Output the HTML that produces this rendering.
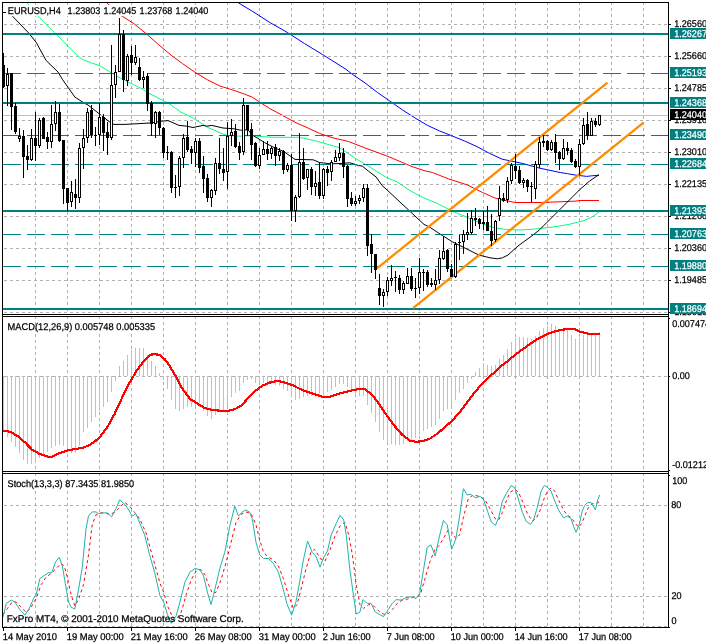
<!DOCTYPE html>
<html><head><meta charset="utf-8"><title>EURUSD,H4</title>
<style>html,body{margin:0;padding:0;background:#fff;overflow:hidden}svg{display:block;font-family:"Liberation Sans",sans-serif;text-rendering:geometricPrecision}.c{shape-rendering:crispEdges}</style></head><body>
<svg width="706" height="644" viewBox="0 0 706 644">
<rect width="706" height="644" fill="#fff"/>
<g class="c">
<path d="M35.5 3V5M35.5 8V11M35.5 14V17M35.5 20V23M35.5 26V29M35.5 32V35M35.5 38V41M35.5 44V47M35.5 50V53M35.5 56V59M35.5 62V65M35.5 68V71M35.5 74V77M35.5 80V83M35.5 86V89M35.5 92V95M35.5 98V101M35.5 104V107M35.5 110V113M35.5 116V119M35.5 122V125M35.5 128V131M35.5 134V137M35.5 140V143M35.5 146V149M35.5 152V155M35.5 158V161M35.5 164V167M35.5 170V173M35.5 176V179M35.5 182V185M35.5 188V191M35.5 194V197M35.5 200V203M35.5 206V209M35.5 212V215M35.5 218V221M35.5 224V227M35.5 230V233M35.5 236V239M35.5 242V245M35.5 248V251M35.5 254V257M35.5 260V263M35.5 266V269M35.5 272V275M35.5 278V281M35.5 284V287M35.5 290V293M35.5 296V299M35.5 302V305M35.5 308V311" stroke="#b0b0b0" stroke-width="1" fill="none"/>
<path d="M67.5 3V5M67.5 8V11M67.5 14V17M67.5 20V23M67.5 26V29M67.5 32V35M67.5 38V41M67.5 44V47M67.5 50V53M67.5 56V59M67.5 62V65M67.5 68V71M67.5 74V77M67.5 80V83M67.5 86V89M67.5 92V95M67.5 98V101M67.5 104V107M67.5 110V113M67.5 116V119M67.5 122V125M67.5 128V131M67.5 134V137M67.5 140V143M67.5 146V149M67.5 152V155M67.5 158V161M67.5 164V167M67.5 170V173M67.5 176V179M67.5 182V185M67.5 188V191M67.5 194V197M67.5 200V203M67.5 206V209M67.5 212V215M67.5 218V221M67.5 224V227M67.5 230V233M67.5 236V239M67.5 242V245M67.5 248V251M67.5 254V257M67.5 260V263M67.5 266V269M67.5 272V275M67.5 278V281M67.5 284V287M67.5 290V293M67.5 296V299M67.5 302V305M67.5 308V311" stroke="#b0b0b0" stroke-width="1" fill="none"/>
<path d="M99.5 3V5M99.5 8V11M99.5 14V17M99.5 20V23M99.5 26V29M99.5 32V35M99.5 38V41M99.5 44V47M99.5 50V53M99.5 56V59M99.5 62V65M99.5 68V71M99.5 74V77M99.5 80V83M99.5 86V89M99.5 92V95M99.5 98V101M99.5 104V107M99.5 110V113M99.5 116V119M99.5 122V125M99.5 128V131M99.5 134V137M99.5 140V143M99.5 146V149M99.5 152V155M99.5 158V161M99.5 164V167M99.5 170V173M99.5 176V179M99.5 182V185M99.5 188V191M99.5 194V197M99.5 200V203M99.5 206V209M99.5 212V215M99.5 218V221M99.5 224V227M99.5 230V233M99.5 236V239M99.5 242V245M99.5 248V251M99.5 254V257M99.5 260V263M99.5 266V269M99.5 272V275M99.5 278V281M99.5 284V287M99.5 290V293M99.5 296V299M99.5 302V305M99.5 308V311" stroke="#b0b0b0" stroke-width="1" fill="none"/>
<path d="M131.5 3V5M131.5 8V11M131.5 14V17M131.5 20V23M131.5 26V29M131.5 32V35M131.5 38V41M131.5 44V47M131.5 50V53M131.5 56V59M131.5 62V65M131.5 68V71M131.5 74V77M131.5 80V83M131.5 86V89M131.5 92V95M131.5 98V101M131.5 104V107M131.5 110V113M131.5 116V119M131.5 122V125M131.5 128V131M131.5 134V137M131.5 140V143M131.5 146V149M131.5 152V155M131.5 158V161M131.5 164V167M131.5 170V173M131.5 176V179M131.5 182V185M131.5 188V191M131.5 194V197M131.5 200V203M131.5 206V209M131.5 212V215M131.5 218V221M131.5 224V227M131.5 230V233M131.5 236V239M131.5 242V245M131.5 248V251M131.5 254V257M131.5 260V263M131.5 266V269M131.5 272V275M131.5 278V281M131.5 284V287M131.5 290V293M131.5 296V299M131.5 302V305M131.5 308V311" stroke="#b0b0b0" stroke-width="1" fill="none"/>
<path d="M163.5 3V5M163.5 8V11M163.5 14V17M163.5 20V23M163.5 26V29M163.5 32V35M163.5 38V41M163.5 44V47M163.5 50V53M163.5 56V59M163.5 62V65M163.5 68V71M163.5 74V77M163.5 80V83M163.5 86V89M163.5 92V95M163.5 98V101M163.5 104V107M163.5 110V113M163.5 116V119M163.5 122V125M163.5 128V131M163.5 134V137M163.5 140V143M163.5 146V149M163.5 152V155M163.5 158V161M163.5 164V167M163.5 170V173M163.5 176V179M163.5 182V185M163.5 188V191M163.5 194V197M163.5 200V203M163.5 206V209M163.5 212V215M163.5 218V221M163.5 224V227M163.5 230V233M163.5 236V239M163.5 242V245M163.5 248V251M163.5 254V257M163.5 260V263M163.5 266V269M163.5 272V275M163.5 278V281M163.5 284V287M163.5 290V293M163.5 296V299M163.5 302V305M163.5 308V311" stroke="#b0b0b0" stroke-width="1" fill="none"/>
<path d="M195.5 3V5M195.5 8V11M195.5 14V17M195.5 20V23M195.5 26V29M195.5 32V35M195.5 38V41M195.5 44V47M195.5 50V53M195.5 56V59M195.5 62V65M195.5 68V71M195.5 74V77M195.5 80V83M195.5 86V89M195.5 92V95M195.5 98V101M195.5 104V107M195.5 110V113M195.5 116V119M195.5 122V125M195.5 128V131M195.5 134V137M195.5 140V143M195.5 146V149M195.5 152V155M195.5 158V161M195.5 164V167M195.5 170V173M195.5 176V179M195.5 182V185M195.5 188V191M195.5 194V197M195.5 200V203M195.5 206V209M195.5 212V215M195.5 218V221M195.5 224V227M195.5 230V233M195.5 236V239M195.5 242V245M195.5 248V251M195.5 254V257M195.5 260V263M195.5 266V269M195.5 272V275M195.5 278V281M195.5 284V287M195.5 290V293M195.5 296V299M195.5 302V305M195.5 308V311" stroke="#b0b0b0" stroke-width="1" fill="none"/>
<path d="M227.5 3V5M227.5 8V11M227.5 14V17M227.5 20V23M227.5 26V29M227.5 32V35M227.5 38V41M227.5 44V47M227.5 50V53M227.5 56V59M227.5 62V65M227.5 68V71M227.5 74V77M227.5 80V83M227.5 86V89M227.5 92V95M227.5 98V101M227.5 104V107M227.5 110V113M227.5 116V119M227.5 122V125M227.5 128V131M227.5 134V137M227.5 140V143M227.5 146V149M227.5 152V155M227.5 158V161M227.5 164V167M227.5 170V173M227.5 176V179M227.5 182V185M227.5 188V191M227.5 194V197M227.5 200V203M227.5 206V209M227.5 212V215M227.5 218V221M227.5 224V227M227.5 230V233M227.5 236V239M227.5 242V245M227.5 248V251M227.5 254V257M227.5 260V263M227.5 266V269M227.5 272V275M227.5 278V281M227.5 284V287M227.5 290V293M227.5 296V299M227.5 302V305M227.5 308V311" stroke="#b0b0b0" stroke-width="1" fill="none"/>
<path d="M259.5 3V5M259.5 8V11M259.5 14V17M259.5 20V23M259.5 26V29M259.5 32V35M259.5 38V41M259.5 44V47M259.5 50V53M259.5 56V59M259.5 62V65M259.5 68V71M259.5 74V77M259.5 80V83M259.5 86V89M259.5 92V95M259.5 98V101M259.5 104V107M259.5 110V113M259.5 116V119M259.5 122V125M259.5 128V131M259.5 134V137M259.5 140V143M259.5 146V149M259.5 152V155M259.5 158V161M259.5 164V167M259.5 170V173M259.5 176V179M259.5 182V185M259.5 188V191M259.5 194V197M259.5 200V203M259.5 206V209M259.5 212V215M259.5 218V221M259.5 224V227M259.5 230V233M259.5 236V239M259.5 242V245M259.5 248V251M259.5 254V257M259.5 260V263M259.5 266V269M259.5 272V275M259.5 278V281M259.5 284V287M259.5 290V293M259.5 296V299M259.5 302V305M259.5 308V311" stroke="#b0b0b0" stroke-width="1" fill="none"/>
<path d="M291.5 3V5M291.5 8V11M291.5 14V17M291.5 20V23M291.5 26V29M291.5 32V35M291.5 38V41M291.5 44V47M291.5 50V53M291.5 56V59M291.5 62V65M291.5 68V71M291.5 74V77M291.5 80V83M291.5 86V89M291.5 92V95M291.5 98V101M291.5 104V107M291.5 110V113M291.5 116V119M291.5 122V125M291.5 128V131M291.5 134V137M291.5 140V143M291.5 146V149M291.5 152V155M291.5 158V161M291.5 164V167M291.5 170V173M291.5 176V179M291.5 182V185M291.5 188V191M291.5 194V197M291.5 200V203M291.5 206V209M291.5 212V215M291.5 218V221M291.5 224V227M291.5 230V233M291.5 236V239M291.5 242V245M291.5 248V251M291.5 254V257M291.5 260V263M291.5 266V269M291.5 272V275M291.5 278V281M291.5 284V287M291.5 290V293M291.5 296V299M291.5 302V305M291.5 308V311" stroke="#b0b0b0" stroke-width="1" fill="none"/>
<path d="M323.5 3V5M323.5 8V11M323.5 14V17M323.5 20V23M323.5 26V29M323.5 32V35M323.5 38V41M323.5 44V47M323.5 50V53M323.5 56V59M323.5 62V65M323.5 68V71M323.5 74V77M323.5 80V83M323.5 86V89M323.5 92V95M323.5 98V101M323.5 104V107M323.5 110V113M323.5 116V119M323.5 122V125M323.5 128V131M323.5 134V137M323.5 140V143M323.5 146V149M323.5 152V155M323.5 158V161M323.5 164V167M323.5 170V173M323.5 176V179M323.5 182V185M323.5 188V191M323.5 194V197M323.5 200V203M323.5 206V209M323.5 212V215M323.5 218V221M323.5 224V227M323.5 230V233M323.5 236V239M323.5 242V245M323.5 248V251M323.5 254V257M323.5 260V263M323.5 266V269M323.5 272V275M323.5 278V281M323.5 284V287M323.5 290V293M323.5 296V299M323.5 302V305M323.5 308V311" stroke="#b0b0b0" stroke-width="1" fill="none"/>
<path d="M355.5 3V5M355.5 8V11M355.5 14V17M355.5 20V23M355.5 26V29M355.5 32V35M355.5 38V41M355.5 44V47M355.5 50V53M355.5 56V59M355.5 62V65M355.5 68V71M355.5 74V77M355.5 80V83M355.5 86V89M355.5 92V95M355.5 98V101M355.5 104V107M355.5 110V113M355.5 116V119M355.5 122V125M355.5 128V131M355.5 134V137M355.5 140V143M355.5 146V149M355.5 152V155M355.5 158V161M355.5 164V167M355.5 170V173M355.5 176V179M355.5 182V185M355.5 188V191M355.5 194V197M355.5 200V203M355.5 206V209M355.5 212V215M355.5 218V221M355.5 224V227M355.5 230V233M355.5 236V239M355.5 242V245M355.5 248V251M355.5 254V257M355.5 260V263M355.5 266V269M355.5 272V275M355.5 278V281M355.5 284V287M355.5 290V293M355.5 296V299M355.5 302V305M355.5 308V311" stroke="#b0b0b0" stroke-width="1" fill="none"/>
<path d="M387.5 3V5M387.5 8V11M387.5 14V17M387.5 20V23M387.5 26V29M387.5 32V35M387.5 38V41M387.5 44V47M387.5 50V53M387.5 56V59M387.5 62V65M387.5 68V71M387.5 74V77M387.5 80V83M387.5 86V89M387.5 92V95M387.5 98V101M387.5 104V107M387.5 110V113M387.5 116V119M387.5 122V125M387.5 128V131M387.5 134V137M387.5 140V143M387.5 146V149M387.5 152V155M387.5 158V161M387.5 164V167M387.5 170V173M387.5 176V179M387.5 182V185M387.5 188V191M387.5 194V197M387.5 200V203M387.5 206V209M387.5 212V215M387.5 218V221M387.5 224V227M387.5 230V233M387.5 236V239M387.5 242V245M387.5 248V251M387.5 254V257M387.5 260V263M387.5 266V269M387.5 272V275M387.5 278V281M387.5 284V287M387.5 290V293M387.5 296V299M387.5 302V305M387.5 308V311" stroke="#b0b0b0" stroke-width="1" fill="none"/>
<path d="M419.5 3V5M419.5 8V11M419.5 14V17M419.5 20V23M419.5 26V29M419.5 32V35M419.5 38V41M419.5 44V47M419.5 50V53M419.5 56V59M419.5 62V65M419.5 68V71M419.5 74V77M419.5 80V83M419.5 86V89M419.5 92V95M419.5 98V101M419.5 104V107M419.5 110V113M419.5 116V119M419.5 122V125M419.5 128V131M419.5 134V137M419.5 140V143M419.5 146V149M419.5 152V155M419.5 158V161M419.5 164V167M419.5 170V173M419.5 176V179M419.5 182V185M419.5 188V191M419.5 194V197M419.5 200V203M419.5 206V209M419.5 212V215M419.5 218V221M419.5 224V227M419.5 230V233M419.5 236V239M419.5 242V245M419.5 248V251M419.5 254V257M419.5 260V263M419.5 266V269M419.5 272V275M419.5 278V281M419.5 284V287M419.5 290V293M419.5 296V299M419.5 302V305M419.5 308V311" stroke="#b0b0b0" stroke-width="1" fill="none"/>
<path d="M451.5 3V5M451.5 8V11M451.5 14V17M451.5 20V23M451.5 26V29M451.5 32V35M451.5 38V41M451.5 44V47M451.5 50V53M451.5 56V59M451.5 62V65M451.5 68V71M451.5 74V77M451.5 80V83M451.5 86V89M451.5 92V95M451.5 98V101M451.5 104V107M451.5 110V113M451.5 116V119M451.5 122V125M451.5 128V131M451.5 134V137M451.5 140V143M451.5 146V149M451.5 152V155M451.5 158V161M451.5 164V167M451.5 170V173M451.5 176V179M451.5 182V185M451.5 188V191M451.5 194V197M451.5 200V203M451.5 206V209M451.5 212V215M451.5 218V221M451.5 224V227M451.5 230V233M451.5 236V239M451.5 242V245M451.5 248V251M451.5 254V257M451.5 260V263M451.5 266V269M451.5 272V275M451.5 278V281M451.5 284V287M451.5 290V293M451.5 296V299M451.5 302V305M451.5 308V311" stroke="#b0b0b0" stroke-width="1" fill="none"/>
<path d="M483.5 3V5M483.5 8V11M483.5 14V17M483.5 20V23M483.5 26V29M483.5 32V35M483.5 38V41M483.5 44V47M483.5 50V53M483.5 56V59M483.5 62V65M483.5 68V71M483.5 74V77M483.5 80V83M483.5 86V89M483.5 92V95M483.5 98V101M483.5 104V107M483.5 110V113M483.5 116V119M483.5 122V125M483.5 128V131M483.5 134V137M483.5 140V143M483.5 146V149M483.5 152V155M483.5 158V161M483.5 164V167M483.5 170V173M483.5 176V179M483.5 182V185M483.5 188V191M483.5 194V197M483.5 200V203M483.5 206V209M483.5 212V215M483.5 218V221M483.5 224V227M483.5 230V233M483.5 236V239M483.5 242V245M483.5 248V251M483.5 254V257M483.5 260V263M483.5 266V269M483.5 272V275M483.5 278V281M483.5 284V287M483.5 290V293M483.5 296V299M483.5 302V305M483.5 308V311" stroke="#b0b0b0" stroke-width="1" fill="none"/>
<path d="M515.5 3V5M515.5 8V11M515.5 14V17M515.5 20V23M515.5 26V29M515.5 32V35M515.5 38V41M515.5 44V47M515.5 50V53M515.5 56V59M515.5 62V65M515.5 68V71M515.5 74V77M515.5 80V83M515.5 86V89M515.5 92V95M515.5 98V101M515.5 104V107M515.5 110V113M515.5 116V119M515.5 122V125M515.5 128V131M515.5 134V137M515.5 140V143M515.5 146V149M515.5 152V155M515.5 158V161M515.5 164V167M515.5 170V173M515.5 176V179M515.5 182V185M515.5 188V191M515.5 194V197M515.5 200V203M515.5 206V209M515.5 212V215M515.5 218V221M515.5 224V227M515.5 230V233M515.5 236V239M515.5 242V245M515.5 248V251M515.5 254V257M515.5 260V263M515.5 266V269M515.5 272V275M515.5 278V281M515.5 284V287M515.5 290V293M515.5 296V299M515.5 302V305M515.5 308V311" stroke="#b0b0b0" stroke-width="1" fill="none"/>
<path d="M547.5 3V5M547.5 8V11M547.5 14V17M547.5 20V23M547.5 26V29M547.5 32V35M547.5 38V41M547.5 44V47M547.5 50V53M547.5 56V59M547.5 62V65M547.5 68V71M547.5 74V77M547.5 80V83M547.5 86V89M547.5 92V95M547.5 98V101M547.5 104V107M547.5 110V113M547.5 116V119M547.5 122V125M547.5 128V131M547.5 134V137M547.5 140V143M547.5 146V149M547.5 152V155M547.5 158V161M547.5 164V167M547.5 170V173M547.5 176V179M547.5 182V185M547.5 188V191M547.5 194V197M547.5 200V203M547.5 206V209M547.5 212V215M547.5 218V221M547.5 224V227M547.5 230V233M547.5 236V239M547.5 242V245M547.5 248V251M547.5 254V257M547.5 260V263M547.5 266V269M547.5 272V275M547.5 278V281M547.5 284V287M547.5 290V293M547.5 296V299M547.5 302V305M547.5 308V311" stroke="#b0b0b0" stroke-width="1" fill="none"/>
<path d="M579.5 3V5M579.5 8V11M579.5 14V17M579.5 20V23M579.5 26V29M579.5 32V35M579.5 38V41M579.5 44V47M579.5 50V53M579.5 56V59M579.5 62V65M579.5 68V71M579.5 74V77M579.5 80V83M579.5 86V89M579.5 92V95M579.5 98V101M579.5 104V107M579.5 110V113M579.5 116V119M579.5 122V125M579.5 128V131M579.5 134V137M579.5 140V143M579.5 146V149M579.5 152V155M579.5 158V161M579.5 164V167M579.5 170V173M579.5 176V179M579.5 182V185M579.5 188V191M579.5 194V197M579.5 200V203M579.5 206V209M579.5 212V215M579.5 218V221M579.5 224V227M579.5 230V233M579.5 236V239M579.5 242V245M579.5 248V251M579.5 254V257M579.5 260V263M579.5 266V269M579.5 272V275M579.5 278V281M579.5 284V287M579.5 290V293M579.5 296V299M579.5 302V305M579.5 308V311" stroke="#b0b0b0" stroke-width="1" fill="none"/>
<path d="M611.5 3V5M611.5 8V11M611.5 14V17M611.5 20V23M611.5 26V29M611.5 32V35M611.5 38V41M611.5 44V47M611.5 50V53M611.5 56V59M611.5 62V65M611.5 68V71M611.5 74V77M611.5 80V83M611.5 86V89M611.5 92V95M611.5 98V101M611.5 104V107M611.5 110V113M611.5 116V119M611.5 122V125M611.5 128V131M611.5 134V137M611.5 140V143M611.5 146V149M611.5 152V155M611.5 158V161M611.5 164V167M611.5 170V173M611.5 176V179M611.5 182V185M611.5 188V191M611.5 194V197M611.5 200V203M611.5 206V209M611.5 212V215M611.5 218V221M611.5 224V227M611.5 230V233M611.5 236V239M611.5 242V245M611.5 248V251M611.5 254V257M611.5 260V263M611.5 266V269M611.5 272V275M611.5 278V281M611.5 284V287M611.5 290V293M611.5 296V299M611.5 302V305M611.5 308V311" stroke="#b0b0b0" stroke-width="1" fill="none"/>
<path d="M643.5 3V5M643.5 8V11M643.5 14V17M643.5 20V23M643.5 26V29M643.5 32V35M643.5 38V41M643.5 44V47M643.5 50V53M643.5 56V59M643.5 62V65M643.5 68V71M643.5 74V77M643.5 80V83M643.5 86V89M643.5 92V95M643.5 98V101M643.5 104V107M643.5 110V113M643.5 116V119M643.5 122V125M643.5 128V131M643.5 134V137M643.5 140V143M643.5 146V149M643.5 152V155M643.5 158V161M643.5 164V167M643.5 170V173M643.5 176V179M643.5 182V185M643.5 188V191M643.5 194V197M643.5 200V203M643.5 206V209M643.5 212V215M643.5 218V221M643.5 224V227M643.5 230V233M643.5 236V239M643.5 242V245M643.5 248V251M643.5 254V257M643.5 260V263M643.5 266V269M643.5 272V275M643.5 278V281M643.5 284V287M643.5 290V293M643.5 296V299M643.5 302V305M643.5 308V311" stroke="#b0b0b0" stroke-width="1" fill="none"/>
<path d="M35.5 317V319M35.5 322V325M35.5 328V331M35.5 334V337M35.5 340V343M35.5 346V349M35.5 352V355M35.5 358V361M35.5 364V367M35.5 370V373M35.5 376V379M35.5 382V385M35.5 388V391M35.5 394V397M35.5 400V403M35.5 406V409M35.5 412V415M35.5 418V421M35.5 424V427M35.5 430V433M35.5 436V439M35.5 442V445M35.5 448V451M35.5 454V457M35.5 460V463M35.5 466V469" stroke="#b0b0b0" stroke-width="1" fill="none"/>
<path d="M67.5 317V319M67.5 322V325M67.5 328V331M67.5 334V337M67.5 340V343M67.5 346V349M67.5 352V355M67.5 358V361M67.5 364V367M67.5 370V373M67.5 376V379M67.5 382V385M67.5 388V391M67.5 394V397M67.5 400V403M67.5 406V409M67.5 412V415M67.5 418V421M67.5 424V427M67.5 430V433M67.5 436V439M67.5 442V445M67.5 448V451M67.5 454V457M67.5 460V463M67.5 466V469" stroke="#b0b0b0" stroke-width="1" fill="none"/>
<path d="M99.5 317V319M99.5 322V325M99.5 328V331M99.5 334V337M99.5 340V343M99.5 346V349M99.5 352V355M99.5 358V361M99.5 364V367M99.5 370V373M99.5 376V379M99.5 382V385M99.5 388V391M99.5 394V397M99.5 400V403M99.5 406V409M99.5 412V415M99.5 418V421M99.5 424V427M99.5 430V433M99.5 436V439M99.5 442V445M99.5 448V451M99.5 454V457M99.5 460V463M99.5 466V469" stroke="#b0b0b0" stroke-width="1" fill="none"/>
<path d="M131.5 317V319M131.5 322V325M131.5 328V331M131.5 334V337M131.5 340V343M131.5 346V349M131.5 352V355M131.5 358V361M131.5 364V367M131.5 370V373M131.5 376V379M131.5 382V385M131.5 388V391M131.5 394V397M131.5 400V403M131.5 406V409M131.5 412V415M131.5 418V421M131.5 424V427M131.5 430V433M131.5 436V439M131.5 442V445M131.5 448V451M131.5 454V457M131.5 460V463M131.5 466V469" stroke="#b0b0b0" stroke-width="1" fill="none"/>
<path d="M163.5 317V319M163.5 322V325M163.5 328V331M163.5 334V337M163.5 340V343M163.5 346V349M163.5 352V355M163.5 358V361M163.5 364V367M163.5 370V373M163.5 376V379M163.5 382V385M163.5 388V391M163.5 394V397M163.5 400V403M163.5 406V409M163.5 412V415M163.5 418V421M163.5 424V427M163.5 430V433M163.5 436V439M163.5 442V445M163.5 448V451M163.5 454V457M163.5 460V463M163.5 466V469" stroke="#b0b0b0" stroke-width="1" fill="none"/>
<path d="M195.5 317V319M195.5 322V325M195.5 328V331M195.5 334V337M195.5 340V343M195.5 346V349M195.5 352V355M195.5 358V361M195.5 364V367M195.5 370V373M195.5 376V379M195.5 382V385M195.5 388V391M195.5 394V397M195.5 400V403M195.5 406V409M195.5 412V415M195.5 418V421M195.5 424V427M195.5 430V433M195.5 436V439M195.5 442V445M195.5 448V451M195.5 454V457M195.5 460V463M195.5 466V469" stroke="#b0b0b0" stroke-width="1" fill="none"/>
<path d="M227.5 317V319M227.5 322V325M227.5 328V331M227.5 334V337M227.5 340V343M227.5 346V349M227.5 352V355M227.5 358V361M227.5 364V367M227.5 370V373M227.5 376V379M227.5 382V385M227.5 388V391M227.5 394V397M227.5 400V403M227.5 406V409M227.5 412V415M227.5 418V421M227.5 424V427M227.5 430V433M227.5 436V439M227.5 442V445M227.5 448V451M227.5 454V457M227.5 460V463M227.5 466V469" stroke="#b0b0b0" stroke-width="1" fill="none"/>
<path d="M259.5 317V319M259.5 322V325M259.5 328V331M259.5 334V337M259.5 340V343M259.5 346V349M259.5 352V355M259.5 358V361M259.5 364V367M259.5 370V373M259.5 376V379M259.5 382V385M259.5 388V391M259.5 394V397M259.5 400V403M259.5 406V409M259.5 412V415M259.5 418V421M259.5 424V427M259.5 430V433M259.5 436V439M259.5 442V445M259.5 448V451M259.5 454V457M259.5 460V463M259.5 466V469" stroke="#b0b0b0" stroke-width="1" fill="none"/>
<path d="M291.5 317V319M291.5 322V325M291.5 328V331M291.5 334V337M291.5 340V343M291.5 346V349M291.5 352V355M291.5 358V361M291.5 364V367M291.5 370V373M291.5 376V379M291.5 382V385M291.5 388V391M291.5 394V397M291.5 400V403M291.5 406V409M291.5 412V415M291.5 418V421M291.5 424V427M291.5 430V433M291.5 436V439M291.5 442V445M291.5 448V451M291.5 454V457M291.5 460V463M291.5 466V469" stroke="#b0b0b0" stroke-width="1" fill="none"/>
<path d="M323.5 317V319M323.5 322V325M323.5 328V331M323.5 334V337M323.5 340V343M323.5 346V349M323.5 352V355M323.5 358V361M323.5 364V367M323.5 370V373M323.5 376V379M323.5 382V385M323.5 388V391M323.5 394V397M323.5 400V403M323.5 406V409M323.5 412V415M323.5 418V421M323.5 424V427M323.5 430V433M323.5 436V439M323.5 442V445M323.5 448V451M323.5 454V457M323.5 460V463M323.5 466V469" stroke="#b0b0b0" stroke-width="1" fill="none"/>
<path d="M355.5 317V319M355.5 322V325M355.5 328V331M355.5 334V337M355.5 340V343M355.5 346V349M355.5 352V355M355.5 358V361M355.5 364V367M355.5 370V373M355.5 376V379M355.5 382V385M355.5 388V391M355.5 394V397M355.5 400V403M355.5 406V409M355.5 412V415M355.5 418V421M355.5 424V427M355.5 430V433M355.5 436V439M355.5 442V445M355.5 448V451M355.5 454V457M355.5 460V463M355.5 466V469" stroke="#b0b0b0" stroke-width="1" fill="none"/>
<path d="M387.5 317V319M387.5 322V325M387.5 328V331M387.5 334V337M387.5 340V343M387.5 346V349M387.5 352V355M387.5 358V361M387.5 364V367M387.5 370V373M387.5 376V379M387.5 382V385M387.5 388V391M387.5 394V397M387.5 400V403M387.5 406V409M387.5 412V415M387.5 418V421M387.5 424V427M387.5 430V433M387.5 436V439M387.5 442V445M387.5 448V451M387.5 454V457M387.5 460V463M387.5 466V469" stroke="#b0b0b0" stroke-width="1" fill="none"/>
<path d="M419.5 317V319M419.5 322V325M419.5 328V331M419.5 334V337M419.5 340V343M419.5 346V349M419.5 352V355M419.5 358V361M419.5 364V367M419.5 370V373M419.5 376V379M419.5 382V385M419.5 388V391M419.5 394V397M419.5 400V403M419.5 406V409M419.5 412V415M419.5 418V421M419.5 424V427M419.5 430V433M419.5 436V439M419.5 442V445M419.5 448V451M419.5 454V457M419.5 460V463M419.5 466V469" stroke="#b0b0b0" stroke-width="1" fill="none"/>
<path d="M451.5 317V319M451.5 322V325M451.5 328V331M451.5 334V337M451.5 340V343M451.5 346V349M451.5 352V355M451.5 358V361M451.5 364V367M451.5 370V373M451.5 376V379M451.5 382V385M451.5 388V391M451.5 394V397M451.5 400V403M451.5 406V409M451.5 412V415M451.5 418V421M451.5 424V427M451.5 430V433M451.5 436V439M451.5 442V445M451.5 448V451M451.5 454V457M451.5 460V463M451.5 466V469" stroke="#b0b0b0" stroke-width="1" fill="none"/>
<path d="M483.5 317V319M483.5 322V325M483.5 328V331M483.5 334V337M483.5 340V343M483.5 346V349M483.5 352V355M483.5 358V361M483.5 364V367M483.5 370V373M483.5 376V379M483.5 382V385M483.5 388V391M483.5 394V397M483.5 400V403M483.5 406V409M483.5 412V415M483.5 418V421M483.5 424V427M483.5 430V433M483.5 436V439M483.5 442V445M483.5 448V451M483.5 454V457M483.5 460V463M483.5 466V469" stroke="#b0b0b0" stroke-width="1" fill="none"/>
<path d="M515.5 317V319M515.5 322V325M515.5 328V331M515.5 334V337M515.5 340V343M515.5 346V349M515.5 352V355M515.5 358V361M515.5 364V367M515.5 370V373M515.5 376V379M515.5 382V385M515.5 388V391M515.5 394V397M515.5 400V403M515.5 406V409M515.5 412V415M515.5 418V421M515.5 424V427M515.5 430V433M515.5 436V439M515.5 442V445M515.5 448V451M515.5 454V457M515.5 460V463M515.5 466V469" stroke="#b0b0b0" stroke-width="1" fill="none"/>
<path d="M547.5 317V319M547.5 322V325M547.5 328V331M547.5 334V337M547.5 340V343M547.5 346V349M547.5 352V355M547.5 358V361M547.5 364V367M547.5 370V373M547.5 376V379M547.5 382V385M547.5 388V391M547.5 394V397M547.5 400V403M547.5 406V409M547.5 412V415M547.5 418V421M547.5 424V427M547.5 430V433M547.5 436V439M547.5 442V445M547.5 448V451M547.5 454V457M547.5 460V463M547.5 466V469" stroke="#b0b0b0" stroke-width="1" fill="none"/>
<path d="M579.5 317V319M579.5 322V325M579.5 328V331M579.5 334V337M579.5 340V343M579.5 346V349M579.5 352V355M579.5 358V361M579.5 364V367M579.5 370V373M579.5 376V379M579.5 382V385M579.5 388V391M579.5 394V397M579.5 400V403M579.5 406V409M579.5 412V415M579.5 418V421M579.5 424V427M579.5 430V433M579.5 436V439M579.5 442V445M579.5 448V451M579.5 454V457M579.5 460V463M579.5 466V469" stroke="#b0b0b0" stroke-width="1" fill="none"/>
<path d="M611.5 317V319M611.5 322V325M611.5 328V331M611.5 334V337M611.5 340V343M611.5 346V349M611.5 352V355M611.5 358V361M611.5 364V367M611.5 370V373M611.5 376V379M611.5 382V385M611.5 388V391M611.5 394V397M611.5 400V403M611.5 406V409M611.5 412V415M611.5 418V421M611.5 424V427M611.5 430V433M611.5 436V439M611.5 442V445M611.5 448V451M611.5 454V457M611.5 460V463M611.5 466V469" stroke="#b0b0b0" stroke-width="1" fill="none"/>
<path d="M643.5 317V319M643.5 322V325M643.5 328V331M643.5 334V337M643.5 340V343M643.5 346V349M643.5 352V355M643.5 358V361M643.5 364V367M643.5 370V373M643.5 376V379M643.5 382V385M643.5 388V391M643.5 394V397M643.5 400V403M643.5 406V409M643.5 412V415M643.5 418V421M643.5 424V427M643.5 430V433M643.5 436V439M643.5 442V445M643.5 448V451M643.5 454V457M643.5 460V463M643.5 466V469" stroke="#b0b0b0" stroke-width="1" fill="none"/>
<path d="M35.5 474V476M35.5 479V482M35.5 485V488M35.5 491V494M35.5 497V500M35.5 503V506M35.5 509V512M35.5 515V518M35.5 521V524M35.5 527V530M35.5 533V536M35.5 539V542M35.5 545V548M35.5 551V554M35.5 557V560M35.5 563V566M35.5 569V572M35.5 575V578M35.5 581V584M35.5 587V590M35.5 593V596M35.5 599V602M35.5 605V608M35.5 611V614M35.5 617V620M35.5 623V626" stroke="#b0b0b0" stroke-width="1" fill="none"/>
<path d="M67.5 474V476M67.5 479V482M67.5 485V488M67.5 491V494M67.5 497V500M67.5 503V506M67.5 509V512M67.5 515V518M67.5 521V524M67.5 527V530M67.5 533V536M67.5 539V542M67.5 545V548M67.5 551V554M67.5 557V560M67.5 563V566M67.5 569V572M67.5 575V578M67.5 581V584M67.5 587V590M67.5 593V596M67.5 599V602M67.5 605V608M67.5 611V614M67.5 617V620M67.5 623V626" stroke="#b0b0b0" stroke-width="1" fill="none"/>
<path d="M99.5 474V476M99.5 479V482M99.5 485V488M99.5 491V494M99.5 497V500M99.5 503V506M99.5 509V512M99.5 515V518M99.5 521V524M99.5 527V530M99.5 533V536M99.5 539V542M99.5 545V548M99.5 551V554M99.5 557V560M99.5 563V566M99.5 569V572M99.5 575V578M99.5 581V584M99.5 587V590M99.5 593V596M99.5 599V602M99.5 605V608M99.5 611V614M99.5 617V620M99.5 623V626" stroke="#b0b0b0" stroke-width="1" fill="none"/>
<path d="M131.5 474V476M131.5 479V482M131.5 485V488M131.5 491V494M131.5 497V500M131.5 503V506M131.5 509V512M131.5 515V518M131.5 521V524M131.5 527V530M131.5 533V536M131.5 539V542M131.5 545V548M131.5 551V554M131.5 557V560M131.5 563V566M131.5 569V572M131.5 575V578M131.5 581V584M131.5 587V590M131.5 593V596M131.5 599V602M131.5 605V608M131.5 611V614M131.5 617V620M131.5 623V626" stroke="#b0b0b0" stroke-width="1" fill="none"/>
<path d="M163.5 474V476M163.5 479V482M163.5 485V488M163.5 491V494M163.5 497V500M163.5 503V506M163.5 509V512M163.5 515V518M163.5 521V524M163.5 527V530M163.5 533V536M163.5 539V542M163.5 545V548M163.5 551V554M163.5 557V560M163.5 563V566M163.5 569V572M163.5 575V578M163.5 581V584M163.5 587V590M163.5 593V596M163.5 599V602M163.5 605V608M163.5 611V614M163.5 617V620M163.5 623V626" stroke="#b0b0b0" stroke-width="1" fill="none"/>
<path d="M195.5 474V476M195.5 479V482M195.5 485V488M195.5 491V494M195.5 497V500M195.5 503V506M195.5 509V512M195.5 515V518M195.5 521V524M195.5 527V530M195.5 533V536M195.5 539V542M195.5 545V548M195.5 551V554M195.5 557V560M195.5 563V566M195.5 569V572M195.5 575V578M195.5 581V584M195.5 587V590M195.5 593V596M195.5 599V602M195.5 605V608M195.5 611V614M195.5 617V620M195.5 623V626" stroke="#b0b0b0" stroke-width="1" fill="none"/>
<path d="M227.5 474V476M227.5 479V482M227.5 485V488M227.5 491V494M227.5 497V500M227.5 503V506M227.5 509V512M227.5 515V518M227.5 521V524M227.5 527V530M227.5 533V536M227.5 539V542M227.5 545V548M227.5 551V554M227.5 557V560M227.5 563V566M227.5 569V572M227.5 575V578M227.5 581V584M227.5 587V590M227.5 593V596M227.5 599V602M227.5 605V608M227.5 611V614M227.5 617V620M227.5 623V626" stroke="#b0b0b0" stroke-width="1" fill="none"/>
<path d="M259.5 474V476M259.5 479V482M259.5 485V488M259.5 491V494M259.5 497V500M259.5 503V506M259.5 509V512M259.5 515V518M259.5 521V524M259.5 527V530M259.5 533V536M259.5 539V542M259.5 545V548M259.5 551V554M259.5 557V560M259.5 563V566M259.5 569V572M259.5 575V578M259.5 581V584M259.5 587V590M259.5 593V596M259.5 599V602M259.5 605V608M259.5 611V614M259.5 617V620M259.5 623V626" stroke="#b0b0b0" stroke-width="1" fill="none"/>
<path d="M291.5 474V476M291.5 479V482M291.5 485V488M291.5 491V494M291.5 497V500M291.5 503V506M291.5 509V512M291.5 515V518M291.5 521V524M291.5 527V530M291.5 533V536M291.5 539V542M291.5 545V548M291.5 551V554M291.5 557V560M291.5 563V566M291.5 569V572M291.5 575V578M291.5 581V584M291.5 587V590M291.5 593V596M291.5 599V602M291.5 605V608M291.5 611V614M291.5 617V620M291.5 623V626" stroke="#b0b0b0" stroke-width="1" fill="none"/>
<path d="M323.5 474V476M323.5 479V482M323.5 485V488M323.5 491V494M323.5 497V500M323.5 503V506M323.5 509V512M323.5 515V518M323.5 521V524M323.5 527V530M323.5 533V536M323.5 539V542M323.5 545V548M323.5 551V554M323.5 557V560M323.5 563V566M323.5 569V572M323.5 575V578M323.5 581V584M323.5 587V590M323.5 593V596M323.5 599V602M323.5 605V608M323.5 611V614M323.5 617V620M323.5 623V626" stroke="#b0b0b0" stroke-width="1" fill="none"/>
<path d="M355.5 474V476M355.5 479V482M355.5 485V488M355.5 491V494M355.5 497V500M355.5 503V506M355.5 509V512M355.5 515V518M355.5 521V524M355.5 527V530M355.5 533V536M355.5 539V542M355.5 545V548M355.5 551V554M355.5 557V560M355.5 563V566M355.5 569V572M355.5 575V578M355.5 581V584M355.5 587V590M355.5 593V596M355.5 599V602M355.5 605V608M355.5 611V614M355.5 617V620M355.5 623V626" stroke="#b0b0b0" stroke-width="1" fill="none"/>
<path d="M387.5 474V476M387.5 479V482M387.5 485V488M387.5 491V494M387.5 497V500M387.5 503V506M387.5 509V512M387.5 515V518M387.5 521V524M387.5 527V530M387.5 533V536M387.5 539V542M387.5 545V548M387.5 551V554M387.5 557V560M387.5 563V566M387.5 569V572M387.5 575V578M387.5 581V584M387.5 587V590M387.5 593V596M387.5 599V602M387.5 605V608M387.5 611V614M387.5 617V620M387.5 623V626" stroke="#b0b0b0" stroke-width="1" fill="none"/>
<path d="M419.5 474V476M419.5 479V482M419.5 485V488M419.5 491V494M419.5 497V500M419.5 503V506M419.5 509V512M419.5 515V518M419.5 521V524M419.5 527V530M419.5 533V536M419.5 539V542M419.5 545V548M419.5 551V554M419.5 557V560M419.5 563V566M419.5 569V572M419.5 575V578M419.5 581V584M419.5 587V590M419.5 593V596M419.5 599V602M419.5 605V608M419.5 611V614M419.5 617V620M419.5 623V626" stroke="#b0b0b0" stroke-width="1" fill="none"/>
<path d="M451.5 474V476M451.5 479V482M451.5 485V488M451.5 491V494M451.5 497V500M451.5 503V506M451.5 509V512M451.5 515V518M451.5 521V524M451.5 527V530M451.5 533V536M451.5 539V542M451.5 545V548M451.5 551V554M451.5 557V560M451.5 563V566M451.5 569V572M451.5 575V578M451.5 581V584M451.5 587V590M451.5 593V596M451.5 599V602M451.5 605V608M451.5 611V614M451.5 617V620M451.5 623V626" stroke="#b0b0b0" stroke-width="1" fill="none"/>
<path d="M483.5 474V476M483.5 479V482M483.5 485V488M483.5 491V494M483.5 497V500M483.5 503V506M483.5 509V512M483.5 515V518M483.5 521V524M483.5 527V530M483.5 533V536M483.5 539V542M483.5 545V548M483.5 551V554M483.5 557V560M483.5 563V566M483.5 569V572M483.5 575V578M483.5 581V584M483.5 587V590M483.5 593V596M483.5 599V602M483.5 605V608M483.5 611V614M483.5 617V620M483.5 623V626" stroke="#b0b0b0" stroke-width="1" fill="none"/>
<path d="M515.5 474V476M515.5 479V482M515.5 485V488M515.5 491V494M515.5 497V500M515.5 503V506M515.5 509V512M515.5 515V518M515.5 521V524M515.5 527V530M515.5 533V536M515.5 539V542M515.5 545V548M515.5 551V554M515.5 557V560M515.5 563V566M515.5 569V572M515.5 575V578M515.5 581V584M515.5 587V590M515.5 593V596M515.5 599V602M515.5 605V608M515.5 611V614M515.5 617V620M515.5 623V626" stroke="#b0b0b0" stroke-width="1" fill="none"/>
<path d="M547.5 474V476M547.5 479V482M547.5 485V488M547.5 491V494M547.5 497V500M547.5 503V506M547.5 509V512M547.5 515V518M547.5 521V524M547.5 527V530M547.5 533V536M547.5 539V542M547.5 545V548M547.5 551V554M547.5 557V560M547.5 563V566M547.5 569V572M547.5 575V578M547.5 581V584M547.5 587V590M547.5 593V596M547.5 599V602M547.5 605V608M547.5 611V614M547.5 617V620M547.5 623V626" stroke="#b0b0b0" stroke-width="1" fill="none"/>
<path d="M579.5 474V476M579.5 479V482M579.5 485V488M579.5 491V494M579.5 497V500M579.5 503V506M579.5 509V512M579.5 515V518M579.5 521V524M579.5 527V530M579.5 533V536M579.5 539V542M579.5 545V548M579.5 551V554M579.5 557V560M579.5 563V566M579.5 569V572M579.5 575V578M579.5 581V584M579.5 587V590M579.5 593V596M579.5 599V602M579.5 605V608M579.5 611V614M579.5 617V620M579.5 623V626" stroke="#b0b0b0" stroke-width="1" fill="none"/>
<path d="M611.5 474V476M611.5 479V482M611.5 485V488M611.5 491V494M611.5 497V500M611.5 503V506M611.5 509V512M611.5 515V518M611.5 521V524M611.5 527V530M611.5 533V536M611.5 539V542M611.5 545V548M611.5 551V554M611.5 557V560M611.5 563V566M611.5 569V572M611.5 575V578M611.5 581V584M611.5 587V590M611.5 593V596M611.5 599V602M611.5 605V608M611.5 611V614M611.5 617V620M611.5 623V626" stroke="#b0b0b0" stroke-width="1" fill="none"/>
<path d="M643.5 474V476M643.5 479V482M643.5 485V488M643.5 491V494M643.5 497V500M643.5 503V506M643.5 509V512M643.5 515V518M643.5 521V524M643.5 527V530M643.5 533V536M643.5 539V542M643.5 545V548M643.5 551V554M643.5 557V560M643.5 563V566M643.5 569V572M643.5 575V578M643.5 581V584M643.5 587V590M643.5 593V596M643.5 599V602M643.5 605V608M643.5 611V614M643.5 617V620M643.5 623V626" stroke="#b0b0b0" stroke-width="1" fill="none"/>
<path d="M4 24.5H7M10 24.5H13M16 24.5H19M22 24.5H25M28 24.5H31M34 24.5H37M40 24.5H43M46 24.5H49M52 24.5H55M58 24.5H61M64 24.5H67M70 24.5H73M76 24.5H79M82 24.5H85M88 24.5H91M94 24.5H97M100 24.5H103M106 24.5H109M112 24.5H115M118 24.5H121M124 24.5H127M130 24.5H133M136 24.5H139M142 24.5H145M148 24.5H151M154 24.5H157M160 24.5H163M166 24.5H169M172 24.5H175M178 24.5H181M184 24.5H187M190 24.5H193M196 24.5H199M202 24.5H205M208 24.5H211M214 24.5H217M220 24.5H223M226 24.5H229M232 24.5H235M238 24.5H241M244 24.5H247M250 24.5H253M256 24.5H259M262 24.5H265M268 24.5H271M274 24.5H277M280 24.5H283M286 24.5H289M292 24.5H295M298 24.5H301M304 24.5H307M310 24.5H313M316 24.5H319M322 24.5H325M328 24.5H331M334 24.5H337M340 24.5H343M346 24.5H349M352 24.5H355M358 24.5H361M364 24.5H367M370 24.5H373M376 24.5H379M382 24.5H385M388 24.5H391M394 24.5H397M400 24.5H403M406 24.5H409M412 24.5H415M418 24.5H421M424 24.5H427M430 24.5H433M436 24.5H439M442 24.5H445M448 24.5H451M454 24.5H457M460 24.5H463M466 24.5H469M472 24.5H475M478 24.5H481M484 24.5H487M490 24.5H493M496 24.5H499M502 24.5H505M508 24.5H511M514 24.5H517M520 24.5H523M526 24.5H529M532 24.5H535M538 24.5H541M544 24.5H547M550 24.5H553M556 24.5H559M562 24.5H565M568 24.5H571M574 24.5H577M580 24.5H583M586 24.5H589M592 24.5H595M598 24.5H601M604 24.5H607M610 24.5H613M616 24.5H619M622 24.5H625M628 24.5H631M634 24.5H637M640 24.5H643M646 24.5H649M652 24.5H655M658 24.5H661M664 24.5H667" stroke="#b0b0b0" stroke-width="1" fill="none"/>
<path d="M4 56.5H7M10 56.5H13M16 56.5H19M22 56.5H25M28 56.5H31M34 56.5H37M40 56.5H43M46 56.5H49M52 56.5H55M58 56.5H61M64 56.5H67M70 56.5H73M76 56.5H79M82 56.5H85M88 56.5H91M94 56.5H97M100 56.5H103M106 56.5H109M112 56.5H115M118 56.5H121M124 56.5H127M130 56.5H133M136 56.5H139M142 56.5H145M148 56.5H151M154 56.5H157M160 56.5H163M166 56.5H169M172 56.5H175M178 56.5H181M184 56.5H187M190 56.5H193M196 56.5H199M202 56.5H205M208 56.5H211M214 56.5H217M220 56.5H223M226 56.5H229M232 56.5H235M238 56.5H241M244 56.5H247M250 56.5H253M256 56.5H259M262 56.5H265M268 56.5H271M274 56.5H277M280 56.5H283M286 56.5H289M292 56.5H295M298 56.5H301M304 56.5H307M310 56.5H313M316 56.5H319M322 56.5H325M328 56.5H331M334 56.5H337M340 56.5H343M346 56.5H349M352 56.5H355M358 56.5H361M364 56.5H367M370 56.5H373M376 56.5H379M382 56.5H385M388 56.5H391M394 56.5H397M400 56.5H403M406 56.5H409M412 56.5H415M418 56.5H421M424 56.5H427M430 56.5H433M436 56.5H439M442 56.5H445M448 56.5H451M454 56.5H457M460 56.5H463M466 56.5H469M472 56.5H475M478 56.5H481M484 56.5H487M490 56.5H493M496 56.5H499M502 56.5H505M508 56.5H511M514 56.5H517M520 56.5H523M526 56.5H529M532 56.5H535M538 56.5H541M544 56.5H547M550 56.5H553M556 56.5H559M562 56.5H565M568 56.5H571M574 56.5H577M580 56.5H583M586 56.5H589M592 56.5H595M598 56.5H601M604 56.5H607M610 56.5H613M616 56.5H619M622 56.5H625M628 56.5H631M634 56.5H637M640 56.5H643M646 56.5H649M652 56.5H655M658 56.5H661M664 56.5H667" stroke="#b0b0b0" stroke-width="1" fill="none"/>
<path d="M4 88.5H7M10 88.5H13M16 88.5H19M22 88.5H25M28 88.5H31M34 88.5H37M40 88.5H43M46 88.5H49M52 88.5H55M58 88.5H61M64 88.5H67M70 88.5H73M76 88.5H79M82 88.5H85M88 88.5H91M94 88.5H97M100 88.5H103M106 88.5H109M112 88.5H115M118 88.5H121M124 88.5H127M130 88.5H133M136 88.5H139M142 88.5H145M148 88.5H151M154 88.5H157M160 88.5H163M166 88.5H169M172 88.5H175M178 88.5H181M184 88.5H187M190 88.5H193M196 88.5H199M202 88.5H205M208 88.5H211M214 88.5H217M220 88.5H223M226 88.5H229M232 88.5H235M238 88.5H241M244 88.5H247M250 88.5H253M256 88.5H259M262 88.5H265M268 88.5H271M274 88.5H277M280 88.5H283M286 88.5H289M292 88.5H295M298 88.5H301M304 88.5H307M310 88.5H313M316 88.5H319M322 88.5H325M328 88.5H331M334 88.5H337M340 88.5H343M346 88.5H349M352 88.5H355M358 88.5H361M364 88.5H367M370 88.5H373M376 88.5H379M382 88.5H385M388 88.5H391M394 88.5H397M400 88.5H403M406 88.5H409M412 88.5H415M418 88.5H421M424 88.5H427M430 88.5H433M436 88.5H439M442 88.5H445M448 88.5H451M454 88.5H457M460 88.5H463M466 88.5H469M472 88.5H475M478 88.5H481M484 88.5H487M490 88.5H493M496 88.5H499M502 88.5H505M508 88.5H511M514 88.5H517M520 88.5H523M526 88.5H529M532 88.5H535M538 88.5H541M544 88.5H547M550 88.5H553M556 88.5H559M562 88.5H565M568 88.5H571M574 88.5H577M580 88.5H583M586 88.5H589M592 88.5H595M598 88.5H601M604 88.5H607M610 88.5H613M616 88.5H619M622 88.5H625M628 88.5H631M634 88.5H637M640 88.5H643M646 88.5H649M652 88.5H655M658 88.5H661M664 88.5H667" stroke="#b0b0b0" stroke-width="1" fill="none"/>
<path d="M4 120.5H7M10 120.5H13M16 120.5H19M22 120.5H25M28 120.5H31M34 120.5H37M40 120.5H43M46 120.5H49M52 120.5H55M58 120.5H61M64 120.5H67M70 120.5H73M76 120.5H79M82 120.5H85M88 120.5H91M94 120.5H97M100 120.5H103M106 120.5H109M112 120.5H115M118 120.5H121M124 120.5H127M130 120.5H133M136 120.5H139M142 120.5H145M148 120.5H151M154 120.5H157M160 120.5H163M166 120.5H169M172 120.5H175M178 120.5H181M184 120.5H187M190 120.5H193M196 120.5H199M202 120.5H205M208 120.5H211M214 120.5H217M220 120.5H223M226 120.5H229M232 120.5H235M238 120.5H241M244 120.5H247M250 120.5H253M256 120.5H259M262 120.5H265M268 120.5H271M274 120.5H277M280 120.5H283M286 120.5H289M292 120.5H295M298 120.5H301M304 120.5H307M310 120.5H313M316 120.5H319M322 120.5H325M328 120.5H331M334 120.5H337M340 120.5H343M346 120.5H349M352 120.5H355M358 120.5H361M364 120.5H367M370 120.5H373M376 120.5H379M382 120.5H385M388 120.5H391M394 120.5H397M400 120.5H403M406 120.5H409M412 120.5H415M418 120.5H421M424 120.5H427M430 120.5H433M436 120.5H439M442 120.5H445M448 120.5H451M454 120.5H457M460 120.5H463M466 120.5H469M472 120.5H475M478 120.5H481M484 120.5H487M490 120.5H493M496 120.5H499M502 120.5H505M508 120.5H511M514 120.5H517M520 120.5H523M526 120.5H529M532 120.5H535M538 120.5H541M544 120.5H547M550 120.5H553M556 120.5H559M562 120.5H565M568 120.5H571M574 120.5H577M580 120.5H583M586 120.5H589M592 120.5H595M598 120.5H601M604 120.5H607M610 120.5H613M616 120.5H619M622 120.5H625M628 120.5H631M634 120.5H637M640 120.5H643M646 120.5H649M652 120.5H655M658 120.5H661M664 120.5H667" stroke="#b0b0b0" stroke-width="1" fill="none"/>
<path d="M4 152.5H7M10 152.5H13M16 152.5H19M22 152.5H25M28 152.5H31M34 152.5H37M40 152.5H43M46 152.5H49M52 152.5H55M58 152.5H61M64 152.5H67M70 152.5H73M76 152.5H79M82 152.5H85M88 152.5H91M94 152.5H97M100 152.5H103M106 152.5H109M112 152.5H115M118 152.5H121M124 152.5H127M130 152.5H133M136 152.5H139M142 152.5H145M148 152.5H151M154 152.5H157M160 152.5H163M166 152.5H169M172 152.5H175M178 152.5H181M184 152.5H187M190 152.5H193M196 152.5H199M202 152.5H205M208 152.5H211M214 152.5H217M220 152.5H223M226 152.5H229M232 152.5H235M238 152.5H241M244 152.5H247M250 152.5H253M256 152.5H259M262 152.5H265M268 152.5H271M274 152.5H277M280 152.5H283M286 152.5H289M292 152.5H295M298 152.5H301M304 152.5H307M310 152.5H313M316 152.5H319M322 152.5H325M328 152.5H331M334 152.5H337M340 152.5H343M346 152.5H349M352 152.5H355M358 152.5H361M364 152.5H367M370 152.5H373M376 152.5H379M382 152.5H385M388 152.5H391M394 152.5H397M400 152.5H403M406 152.5H409M412 152.5H415M418 152.5H421M424 152.5H427M430 152.5H433M436 152.5H439M442 152.5H445M448 152.5H451M454 152.5H457M460 152.5H463M466 152.5H469M472 152.5H475M478 152.5H481M484 152.5H487M490 152.5H493M496 152.5H499M502 152.5H505M508 152.5H511M514 152.5H517M520 152.5H523M526 152.5H529M532 152.5H535M538 152.5H541M544 152.5H547M550 152.5H553M556 152.5H559M562 152.5H565M568 152.5H571M574 152.5H577M580 152.5H583M586 152.5H589M592 152.5H595M598 152.5H601M604 152.5H607M610 152.5H613M616 152.5H619M622 152.5H625M628 152.5H631M634 152.5H637M640 152.5H643M646 152.5H649M652 152.5H655M658 152.5H661M664 152.5H667" stroke="#b0b0b0" stroke-width="1" fill="none"/>
<path d="M4 184.5H7M10 184.5H13M16 184.5H19M22 184.5H25M28 184.5H31M34 184.5H37M40 184.5H43M46 184.5H49M52 184.5H55M58 184.5H61M64 184.5H67M70 184.5H73M76 184.5H79M82 184.5H85M88 184.5H91M94 184.5H97M100 184.5H103M106 184.5H109M112 184.5H115M118 184.5H121M124 184.5H127M130 184.5H133M136 184.5H139M142 184.5H145M148 184.5H151M154 184.5H157M160 184.5H163M166 184.5H169M172 184.5H175M178 184.5H181M184 184.5H187M190 184.5H193M196 184.5H199M202 184.5H205M208 184.5H211M214 184.5H217M220 184.5H223M226 184.5H229M232 184.5H235M238 184.5H241M244 184.5H247M250 184.5H253M256 184.5H259M262 184.5H265M268 184.5H271M274 184.5H277M280 184.5H283M286 184.5H289M292 184.5H295M298 184.5H301M304 184.5H307M310 184.5H313M316 184.5H319M322 184.5H325M328 184.5H331M334 184.5H337M340 184.5H343M346 184.5H349M352 184.5H355M358 184.5H361M364 184.5H367M370 184.5H373M376 184.5H379M382 184.5H385M388 184.5H391M394 184.5H397M400 184.5H403M406 184.5H409M412 184.5H415M418 184.5H421M424 184.5H427M430 184.5H433M436 184.5H439M442 184.5H445M448 184.5H451M454 184.5H457M460 184.5H463M466 184.5H469M472 184.5H475M478 184.5H481M484 184.5H487M490 184.5H493M496 184.5H499M502 184.5H505M508 184.5H511M514 184.5H517M520 184.5H523M526 184.5H529M532 184.5H535M538 184.5H541M544 184.5H547M550 184.5H553M556 184.5H559M562 184.5H565M568 184.5H571M574 184.5H577M580 184.5H583M586 184.5H589M592 184.5H595M598 184.5H601M604 184.5H607M610 184.5H613M616 184.5H619M622 184.5H625M628 184.5H631M634 184.5H637M640 184.5H643M646 184.5H649M652 184.5H655M658 184.5H661M664 184.5H667" stroke="#b0b0b0" stroke-width="1" fill="none"/>
<path d="M4 216.5H7M10 216.5H13M16 216.5H19M22 216.5H25M28 216.5H31M34 216.5H37M40 216.5H43M46 216.5H49M52 216.5H55M58 216.5H61M64 216.5H67M70 216.5H73M76 216.5H79M82 216.5H85M88 216.5H91M94 216.5H97M100 216.5H103M106 216.5H109M112 216.5H115M118 216.5H121M124 216.5H127M130 216.5H133M136 216.5H139M142 216.5H145M148 216.5H151M154 216.5H157M160 216.5H163M166 216.5H169M172 216.5H175M178 216.5H181M184 216.5H187M190 216.5H193M196 216.5H199M202 216.5H205M208 216.5H211M214 216.5H217M220 216.5H223M226 216.5H229M232 216.5H235M238 216.5H241M244 216.5H247M250 216.5H253M256 216.5H259M262 216.5H265M268 216.5H271M274 216.5H277M280 216.5H283M286 216.5H289M292 216.5H295M298 216.5H301M304 216.5H307M310 216.5H313M316 216.5H319M322 216.5H325M328 216.5H331M334 216.5H337M340 216.5H343M346 216.5H349M352 216.5H355M358 216.5H361M364 216.5H367M370 216.5H373M376 216.5H379M382 216.5H385M388 216.5H391M394 216.5H397M400 216.5H403M406 216.5H409M412 216.5H415M418 216.5H421M424 216.5H427M430 216.5H433M436 216.5H439M442 216.5H445M448 216.5H451M454 216.5H457M460 216.5H463M466 216.5H469M472 216.5H475M478 216.5H481M484 216.5H487M490 216.5H493M496 216.5H499M502 216.5H505M508 216.5H511M514 216.5H517M520 216.5H523M526 216.5H529M532 216.5H535M538 216.5H541M544 216.5H547M550 216.5H553M556 216.5H559M562 216.5H565M568 216.5H571M574 216.5H577M580 216.5H583M586 216.5H589M592 216.5H595M598 216.5H601M604 216.5H607M610 216.5H613M616 216.5H619M622 216.5H625M628 216.5H631M634 216.5H637M640 216.5H643M646 216.5H649M652 216.5H655M658 216.5H661M664 216.5H667" stroke="#b0b0b0" stroke-width="1" fill="none"/>
<path d="M4 248.5H7M10 248.5H13M16 248.5H19M22 248.5H25M28 248.5H31M34 248.5H37M40 248.5H43M46 248.5H49M52 248.5H55M58 248.5H61M64 248.5H67M70 248.5H73M76 248.5H79M82 248.5H85M88 248.5H91M94 248.5H97M100 248.5H103M106 248.5H109M112 248.5H115M118 248.5H121M124 248.5H127M130 248.5H133M136 248.5H139M142 248.5H145M148 248.5H151M154 248.5H157M160 248.5H163M166 248.5H169M172 248.5H175M178 248.5H181M184 248.5H187M190 248.5H193M196 248.5H199M202 248.5H205M208 248.5H211M214 248.5H217M220 248.5H223M226 248.5H229M232 248.5H235M238 248.5H241M244 248.5H247M250 248.5H253M256 248.5H259M262 248.5H265M268 248.5H271M274 248.5H277M280 248.5H283M286 248.5H289M292 248.5H295M298 248.5H301M304 248.5H307M310 248.5H313M316 248.5H319M322 248.5H325M328 248.5H331M334 248.5H337M340 248.5H343M346 248.5H349M352 248.5H355M358 248.5H361M364 248.5H367M370 248.5H373M376 248.5H379M382 248.5H385M388 248.5H391M394 248.5H397M400 248.5H403M406 248.5H409M412 248.5H415M418 248.5H421M424 248.5H427M430 248.5H433M436 248.5H439M442 248.5H445M448 248.5H451M454 248.5H457M460 248.5H463M466 248.5H469M472 248.5H475M478 248.5H481M484 248.5H487M490 248.5H493M496 248.5H499M502 248.5H505M508 248.5H511M514 248.5H517M520 248.5H523M526 248.5H529M532 248.5H535M538 248.5H541M544 248.5H547M550 248.5H553M556 248.5H559M562 248.5H565M568 248.5H571M574 248.5H577M580 248.5H583M586 248.5H589M592 248.5H595M598 248.5H601M604 248.5H607M610 248.5H613M616 248.5H619M622 248.5H625M628 248.5H631M634 248.5H637M640 248.5H643M646 248.5H649M652 248.5H655M658 248.5H661M664 248.5H667" stroke="#b0b0b0" stroke-width="1" fill="none"/>
<path d="M4 280.5H7M10 280.5H13M16 280.5H19M22 280.5H25M28 280.5H31M34 280.5H37M40 280.5H43M46 280.5H49M52 280.5H55M58 280.5H61M64 280.5H67M70 280.5H73M76 280.5H79M82 280.5H85M88 280.5H91M94 280.5H97M100 280.5H103M106 280.5H109M112 280.5H115M118 280.5H121M124 280.5H127M130 280.5H133M136 280.5H139M142 280.5H145M148 280.5H151M154 280.5H157M160 280.5H163M166 280.5H169M172 280.5H175M178 280.5H181M184 280.5H187M190 280.5H193M196 280.5H199M202 280.5H205M208 280.5H211M214 280.5H217M220 280.5H223M226 280.5H229M232 280.5H235M238 280.5H241M244 280.5H247M250 280.5H253M256 280.5H259M262 280.5H265M268 280.5H271M274 280.5H277M280 280.5H283M286 280.5H289M292 280.5H295M298 280.5H301M304 280.5H307M310 280.5H313M316 280.5H319M322 280.5H325M328 280.5H331M334 280.5H337M340 280.5H343M346 280.5H349M352 280.5H355M358 280.5H361M364 280.5H367M370 280.5H373M376 280.5H379M382 280.5H385M388 280.5H391M394 280.5H397M400 280.5H403M406 280.5H409M412 280.5H415M418 280.5H421M424 280.5H427M430 280.5H433M436 280.5H439M442 280.5H445M448 280.5H451M454 280.5H457M460 280.5H463M466 280.5H469M472 280.5H475M478 280.5H481M484 280.5H487M490 280.5H493M496 280.5H499M502 280.5H505M508 280.5H511M514 280.5H517M520 280.5H523M526 280.5H529M532 280.5H535M538 280.5H541M544 280.5H547M550 280.5H553M556 280.5H559M562 280.5H565M568 280.5H571M574 280.5H577M580 280.5H583M586 280.5H589M592 280.5H595M598 280.5H601M604 280.5H607M610 280.5H613M616 280.5H619M622 280.5H625M628 280.5H631M634 280.5H637M640 280.5H643M646 280.5H649M652 280.5H655M658 280.5H661M664 280.5H667" stroke="#b0b0b0" stroke-width="1" fill="none"/>
<path d="M4 312.5H7M10 312.5H13M16 312.5H19M22 312.5H25M28 312.5H31M34 312.5H37M40 312.5H43M46 312.5H49M52 312.5H55M58 312.5H61M64 312.5H67M70 312.5H73M76 312.5H79M82 312.5H85M88 312.5H91M94 312.5H97M100 312.5H103M106 312.5H109M112 312.5H115M118 312.5H121M124 312.5H127M130 312.5H133M136 312.5H139M142 312.5H145M148 312.5H151M154 312.5H157M160 312.5H163M166 312.5H169M172 312.5H175M178 312.5H181M184 312.5H187M190 312.5H193M196 312.5H199M202 312.5H205M208 312.5H211M214 312.5H217M220 312.5H223M226 312.5H229M232 312.5H235M238 312.5H241M244 312.5H247M250 312.5H253M256 312.5H259M262 312.5H265M268 312.5H271M274 312.5H277M280 312.5H283M286 312.5H289M292 312.5H295M298 312.5H301M304 312.5H307M310 312.5H313M316 312.5H319M322 312.5H325M328 312.5H331M334 312.5H337M340 312.5H343M346 312.5H349M352 312.5H355M358 312.5H361M364 312.5H367M370 312.5H373M376 312.5H379M382 312.5H385M388 312.5H391M394 312.5H397M400 312.5H403M406 312.5H409M412 312.5H415M418 312.5H421M424 312.5H427M430 312.5H433M436 312.5H439M442 312.5H445M448 312.5H451M454 312.5H457M460 312.5H463M466 312.5H469M472 312.5H475M478 312.5H481M484 312.5H487M490 312.5H493M496 312.5H499M502 312.5H505M508 312.5H511M514 312.5H517M520 312.5H523M526 312.5H529M532 312.5H535M538 312.5H541M544 312.5H547M550 312.5H553M556 312.5H559M562 312.5H565M568 312.5H571M574 312.5H577M580 312.5H583M586 312.5H589M592 312.5H595M598 312.5H601M604 312.5H607M610 312.5H613M616 312.5H619M622 312.5H625M628 312.5H631M634 312.5H637M640 312.5H643M646 312.5H649M652 312.5H655M658 312.5H661M664 312.5H667" stroke="#b0b0b0" stroke-width="1" fill="none"/>
<path d="M4 376.5H7M10 376.5H13M16 376.5H19M22 376.5H25M28 376.5H31M34 376.5H37M40 376.5H43M46 376.5H49M52 376.5H55M58 376.5H61M64 376.5H67M70 376.5H73M76 376.5H79M82 376.5H85M88 376.5H91M94 376.5H97M100 376.5H103M106 376.5H109M112 376.5H115M118 376.5H121M124 376.5H127M130 376.5H133M136 376.5H139M142 376.5H145M148 376.5H151M154 376.5H157M160 376.5H163M166 376.5H169M172 376.5H175M178 376.5H181M184 376.5H187M190 376.5H193M196 376.5H199M202 376.5H205M208 376.5H211M214 376.5H217M220 376.5H223M226 376.5H229M232 376.5H235M238 376.5H241M244 376.5H247M250 376.5H253M256 376.5H259M262 376.5H265M268 376.5H271M274 376.5H277M280 376.5H283M286 376.5H289M292 376.5H295M298 376.5H301M304 376.5H307M310 376.5H313M316 376.5H319M322 376.5H325M328 376.5H331M334 376.5H337M340 376.5H343M346 376.5H349M352 376.5H355M358 376.5H361M364 376.5H367M370 376.5H373M376 376.5H379M382 376.5H385M388 376.5H391M394 376.5H397M400 376.5H403M406 376.5H409M412 376.5H415M418 376.5H421M424 376.5H427M430 376.5H433M436 376.5H439M442 376.5H445M448 376.5H451M454 376.5H457M460 376.5H463M466 376.5H469M472 376.5H475M478 376.5H481M484 376.5H487M490 376.5H493M496 376.5H499M502 376.5H505M508 376.5H511M514 376.5H517M520 376.5H523M526 376.5H529M532 376.5H535M538 376.5H541M544 376.5H547M550 376.5H553M556 376.5H559M562 376.5H565M568 376.5H571M574 376.5H577M580 376.5H583M586 376.5H589M592 376.5H595M598 376.5H601M604 376.5H607M610 376.5H613M616 376.5H619M622 376.5H625M628 376.5H631M634 376.5H637M640 376.5H643M646 376.5H649M652 376.5H655M658 376.5H661M664 376.5H667" stroke="#b0b0b0" stroke-width="1" fill="none"/>
<path d="M4 505.5H7M10 505.5H13M16 505.5H19M22 505.5H25M28 505.5H31M34 505.5H37M40 505.5H43M46 505.5H49M52 505.5H55M58 505.5H61M64 505.5H67M70 505.5H73M76 505.5H79M82 505.5H85M88 505.5H91M94 505.5H97M100 505.5H103M106 505.5H109M112 505.5H115M118 505.5H121M124 505.5H127M130 505.5H133M136 505.5H139M142 505.5H145M148 505.5H151M154 505.5H157M160 505.5H163M166 505.5H169M172 505.5H175M178 505.5H181M184 505.5H187M190 505.5H193M196 505.5H199M202 505.5H205M208 505.5H211M214 505.5H217M220 505.5H223M226 505.5H229M232 505.5H235M238 505.5H241M244 505.5H247M250 505.5H253M256 505.5H259M262 505.5H265M268 505.5H271M274 505.5H277M280 505.5H283M286 505.5H289M292 505.5H295M298 505.5H301M304 505.5H307M310 505.5H313M316 505.5H319M322 505.5H325M328 505.5H331M334 505.5H337M340 505.5H343M346 505.5H349M352 505.5H355M358 505.5H361M364 505.5H367M370 505.5H373M376 505.5H379M382 505.5H385M388 505.5H391M394 505.5H397M400 505.5H403M406 505.5H409M412 505.5H415M418 505.5H421M424 505.5H427M430 505.5H433M436 505.5H439M442 505.5H445M448 505.5H451M454 505.5H457M460 505.5H463M466 505.5H469M472 505.5H475M478 505.5H481M484 505.5H487M490 505.5H493M496 505.5H499M502 505.5H505M508 505.5H511M514 505.5H517M520 505.5H523M526 505.5H529M532 505.5H535M538 505.5H541M544 505.5H547M550 505.5H553M556 505.5H559M562 505.5H565M568 505.5H571M574 505.5H577M580 505.5H583M586 505.5H589M592 505.5H595M598 505.5H601M604 505.5H607M610 505.5H613M616 505.5H619M622 505.5H625M628 505.5H631M634 505.5H637M640 505.5H643M646 505.5H649M652 505.5H655M658 505.5H661M664 505.5H667" stroke="#b0b0b0" stroke-width="1" fill="none"/>
<path d="M4 596.5H7M10 596.5H13M16 596.5H19M22 596.5H25M28 596.5H31M34 596.5H37M40 596.5H43M46 596.5H49M52 596.5H55M58 596.5H61M64 596.5H67M70 596.5H73M76 596.5H79M82 596.5H85M88 596.5H91M94 596.5H97M100 596.5H103M106 596.5H109M112 596.5H115M118 596.5H121M124 596.5H127M130 596.5H133M136 596.5H139M142 596.5H145M148 596.5H151M154 596.5H157M160 596.5H163M166 596.5H169M172 596.5H175M178 596.5H181M184 596.5H187M190 596.5H193M196 596.5H199M202 596.5H205M208 596.5H211M214 596.5H217M220 596.5H223M226 596.5H229M232 596.5H235M238 596.5H241M244 596.5H247M250 596.5H253M256 596.5H259M262 596.5H265M268 596.5H271M274 596.5H277M280 596.5H283M286 596.5H289M292 596.5H295M298 596.5H301M304 596.5H307M310 596.5H313M316 596.5H319M322 596.5H325M328 596.5H331M334 596.5H337M340 596.5H343M346 596.5H349M352 596.5H355M358 596.5H361M364 596.5H367M370 596.5H373M376 596.5H379M382 596.5H385M388 596.5H391M394 596.5H397M400 596.5H403M406 596.5H409M412 596.5H415M418 596.5H421M424 596.5H427M430 596.5H433M436 596.5H439M442 596.5H445M448 596.5H451M454 596.5H457M460 596.5H463M466 596.5H469M472 596.5H475M478 596.5H481M484 596.5H487M490 596.5H493M496 596.5H499M502 596.5H505M508 596.5H511M514 596.5H517M520 596.5H523M526 596.5H529M532 596.5H535M538 596.5H541M544 596.5H547M550 596.5H553M556 596.5H559M562 596.5H565M568 596.5H571M574 596.5H577M580 596.5H583M586 596.5H589M592 596.5H595M598 596.5H601M604 596.5H607M610 596.5H613M616 596.5H619M622 596.5H625M628 596.5H631M634 596.5H637M640 596.5H643M646 596.5H649M652 596.5H655M658 596.5H661M664 596.5H667" stroke="#b0b0b0" stroke-width="1" fill="none"/>
<path d="M4 626.5H7M10 626.5H13M16 626.5H19M22 626.5H25M28 626.5H31M34 626.5H37M40 626.5H43M46 626.5H49M52 626.5H55M58 626.5H61M64 626.5H67M70 626.5H73M76 626.5H79M82 626.5H85M88 626.5H91M94 626.5H97M100 626.5H103M106 626.5H109M112 626.5H115M118 626.5H121M124 626.5H127M130 626.5H133M136 626.5H139M142 626.5H145M148 626.5H151M154 626.5H157M160 626.5H163M166 626.5H169M172 626.5H175M178 626.5H181M184 626.5H187M190 626.5H193M196 626.5H199M202 626.5H205M208 626.5H211M214 626.5H217M220 626.5H223M226 626.5H229M232 626.5H235M238 626.5H241M244 626.5H247M250 626.5H253M256 626.5H259M262 626.5H265M268 626.5H271M274 626.5H277M280 626.5H283M286 626.5H289M292 626.5H295M298 626.5H301M304 626.5H307M310 626.5H313M316 626.5H319M322 626.5H325M328 626.5H331M334 626.5H337M340 626.5H343M346 626.5H349M352 626.5H355M358 626.5H361M364 626.5H367M370 626.5H373M376 626.5H379M382 626.5H385M388 626.5H391M394 626.5H397M400 626.5H403M406 626.5H409M412 626.5H415M418 626.5H421M424 626.5H427M430 626.5H433M436 626.5H439M442 626.5H445M448 626.5H451M454 626.5H457M460 626.5H463M466 626.5H469M472 626.5H475M478 626.5H481M484 626.5H487M490 626.5H493M496 626.5H499M502 626.5H505M508 626.5H511M514 626.5H517M520 626.5H523M526 626.5H529M532 626.5H535M538 626.5H541M544 626.5H547M550 626.5H553M556 626.5H559M562 626.5H565M568 626.5H571M574 626.5H577M580 626.5H583M586 626.5H589M592 626.5H595M598 626.5H601M604 626.5H607M610 626.5H613M616 626.5H619M622 626.5H625M628 626.5H631M634 626.5H637M640 626.5H643M646 626.5H649M652 626.5H655M658 626.5H661M664 626.5H667" stroke="#b0b0b0" stroke-width="1" fill="none"/>
</g>
<clipPath id="p1"><rect x="3" y="3" width="665" height="311"/></clipPath>
<clipPath id="p2"><rect x="3" y="317" width="665" height="154"/></clipPath>
<clipPath id="p3"><rect x="3" y="474" width="665" height="153"/></clipPath>
<g class="c" clip-path="url(#p1)">
<polyline points="238.6,3.0 252.3,11.2 269.7,22.4 287.2,32.4 304.6,43.6 322.1,54.3 337.0,63.6 346.0,69.3 352.5,74.4 365.0,82.9 377.4,92.4 389.9,101.1 402.3,109.8 414.8,117.8 427.3,125.3 439.7,131.0 452.2,136.0 464.7,141.0 477.1,146.7 489.6,153.4 502.1,159.2 510.0,160.8 522.8,163.5 539.0,168.0 560.2,172.5 567.5,173.7 575.0,175.0 580.0,175.6 586.8,176.4 590.0,176.0 599.0,175.2" fill="none" stroke="#0000ff" stroke-width="1.0" shape-rendering="geometricPrecision"/>
<polyline points="107.0,3.0 122.0,16.0 133.9,23.7 146.3,33.7 158.8,44.9 172.0,55.9 182.5,63.6 195.0,72.3 207.4,79.8 219.9,86.0 232.3,89.8 244.8,94.2 252.3,97.2 259.8,102.2 269.7,108.5 282.2,115.2 294.7,122.2 307.1,127.6 319.6,133.4 332.0,137.6 340.0,139.5 348.5,141.5 367.2,148.8 386.0,155.6 404.8,163.5 411.0,166.2 424.0,170.6 432.5,172.5 448.8,179.0 467.5,185.0 482.5,192.5 495.0,198.0 502.5,200.0 508.0,201.0 515.2,202.5 541.5,202.5 560.2,201.8 576.0,201.1 580.0,200.5 599.0,200.5" fill="none" stroke="#ff0000" stroke-width="1.0" shape-rendering="geometricPrecision"/>
<polyline points="27.4,3.0 38.0,16.2 54.9,33.0 68.6,46.8 77.3,55.5 82.3,59.3 90.0,62.5 99.7,65.6 110.8,72.6 121.4,78.6 133.9,84.8 142.6,89.2 146.3,91.8 160.0,99.0 170.0,104.2 180.5,111.9 193.0,118.0 208.0,127.5 223.0,134.0 226.8,135.2 240.0,136.2 252.0,135.6 259.5,136.5 273.2,137.3 299.5,137.3 314.5,140.6 329.5,144.8 340.0,147.8 356.0,158.8 368.5,166.2 387.2,178.0 397.2,181.9 411.0,191.2 424.0,198.0 436.2,203.0 452.5,211.2 467.5,217.5 482.5,223.8 495.0,228.0 508.0,229.6 520.0,230.0 535.2,229.0 554.0,226.9 569.0,224.4 584.0,220.6 592.4,216.7 599.0,212.0" fill="none" stroke="#00ff7f" stroke-width="1.0" shape-rendering="geometricPrecision"/>
<polyline points="12.5,16.2 28.7,33.0 36.2,42.4 46.1,60.5 58.0,72.0 62.3,79.2 74.8,97.0 81.0,101.0 84.0,103.0 88.0,105.0 111.0,123.0 114.0,124.4 125.0,124.4 150.0,123.0 161.5,121.2 168.0,120.6 179.0,125.4 186.8,126.2 193.0,127.5 203.0,125.4 206.8,126.2 211.8,125.4 223.0,128.0 234.0,128.8 240.5,130.2 248.0,129.8 252.0,134.8 264.5,142.5 275.8,148.5 283.2,151.2 295.0,159.4 313.2,159.8 319.5,162.5 330.8,163.8 340.0,163.5 349.8,162.8 353.5,163.8 358.5,165.6 362.2,166.0 368.5,171.2 376.0,176.9 382.2,185.6 389.8,192.5 408.5,210.0 424.0,224.4 429.4,227.0 442.5,235.6 452.5,241.9 463.8,247.5 478.8,255.0 490.0,257.8 497.5,258.8 502.5,257.8 508.0,255.0 518.0,246.0 533.0,235.0 539.8,229.6 554.8,214.6 567.3,202.1 579.7,189.7 589.7,180.9 599.0,174.7" fill="none" stroke="#000" stroke-width="1.0" shape-rendering="geometricPrecision"/>
<rect x="3" y="115" width="665" height="1" fill="#c0c0c0"/>
<rect x="3" y="33" width="665" height="2" fill="#008080"/>
<rect x="3" y="102" width="665" height="2" fill="#008080"/>
<rect x="3" y="210" width="665" height="2" fill="#008080"/>
<rect x="3" y="308" width="665" height="2" fill="#008080"/>
<path d="M3 73.5H21M27 73.5H45M51 73.5H69M75 73.5H93M99 73.5H117M123 73.5H141M147 73.5H165M171 73.5H189M195 73.5H213M219 73.5H237M243 73.5H261M267 73.5H285M291 73.5H309M315 73.5H333M339 73.5H357M363 73.5H381M387 73.5H405M411 73.5H429M435 73.5H453M459 73.5H477M483 73.5H501M507 73.5H525M531 73.5H549M555 73.5H573M579 73.5H597M603 73.5H621M627 73.5H645M651 73.5H668" stroke="#008080" stroke-width="1" fill="none"/>
<path d="M3 135.5H21M27 135.5H45M51 135.5H69M75 135.5H93M99 135.5H117M123 135.5H141M147 135.5H165M171 135.5H189M195 135.5H213M219 135.5H237M243 135.5H261M267 135.5H285M291 135.5H309M315 135.5H333M339 135.5H357M363 135.5H381M387 135.5H405M411 135.5H429M435 135.5H453M459 135.5H477M483 135.5H501M507 135.5H525M531 135.5H549M555 135.5H573M579 135.5H597M603 135.5H621M627 135.5H645M651 135.5H668" stroke="#008080" stroke-width="1" fill="none"/>
<path d="M3 164.5H21M27 164.5H45M51 164.5H69M75 164.5H93M99 164.5H117M123 164.5H141M147 164.5H165M171 164.5H189M195 164.5H213M219 164.5H237M243 164.5H261M267 164.5H285M291 164.5H309M315 164.5H333M339 164.5H357M363 164.5H381M387 164.5H405M411 164.5H429M435 164.5H453M459 164.5H477M483 164.5H501M507 164.5H525M531 164.5H549M555 164.5H573M579 164.5H597M603 164.5H621M627 164.5H645M651 164.5H668" stroke="#008080" stroke-width="1" fill="none"/>
<path d="M3 234.5H21M27 234.5H45M51 234.5H69M75 234.5H93M99 234.5H117M123 234.5H141M147 234.5H165M171 234.5H189M195 234.5H213M219 234.5H237M243 234.5H261M267 234.5H285M291 234.5H309M315 234.5H333M339 234.5H357M363 234.5H381M387 234.5H405M411 234.5H429M435 234.5H453M459 234.5H477M483 234.5H501M507 234.5H525M531 234.5H549M555 234.5H573M579 234.5H597M603 234.5H621M627 234.5H645M651 234.5H668" stroke="#008080" stroke-width="1" fill="none"/>
<path d="M3 266.5H21M27 266.5H45M51 266.5H69M75 266.5H93M99 266.5H117M123 266.5H141M147 266.5H165M171 266.5H189M195 266.5H213M219 266.5H237M243 266.5H261M267 266.5H285M291 266.5H309M315 266.5H333M339 266.5H357M363 266.5H381M387 266.5H405M411 266.5H429M435 266.5H453M459 266.5H477M483 266.5H501M507 266.5H525M531 266.5H549M555 266.5H573M579 266.5H597M603 266.5H621M627 266.5H645M651 266.5H668" stroke="#008080" stroke-width="1" fill="none"/>
<line x1="377" y1="268.3" x2="607.5" y2="82.7" stroke="#ff8c00" stroke-width="2.3" shape-rendering="geometricPrecision"/>
<line x1="413" y1="308.2" x2="643.5" y2="122.6" stroke="#ff8c00" stroke-width="2.3" shape-rendering="geometricPrecision"/>
<rect x="3" y="53" width="1" height="35" fill="#000"/>
<rect x="2" y="65" width="3" height="22" fill="#000"/>
<rect x="7" y="68" width="1" height="38" fill="#000"/>
<rect x="6" y="74" width="3" height="12" fill="#000"/>
<rect x="7" y="75" width="1" height="10" fill="#fff"/>
<rect x="11" y="73" width="1" height="57" fill="#000"/>
<rect x="10" y="73" width="3" height="34" fill="#000"/>
<rect x="15" y="103" width="1" height="31" fill="#000"/>
<rect x="14" y="106" width="3" height="26" fill="#000"/>
<rect x="19" y="128" width="1" height="14" fill="#000"/>
<rect x="18" y="136" width="3" height="3" fill="#000"/>
<rect x="19" y="137" width="1" height="1" fill="#fff"/>
<rect x="23" y="130" width="1" height="48" fill="#000"/>
<rect x="22" y="136" width="3" height="21" fill="#000"/>
<rect x="27" y="145" width="1" height="25" fill="#000"/>
<rect x="26" y="156" width="3" height="4" fill="#000"/>
<rect x="31" y="129" width="1" height="32" fill="#000"/>
<rect x="30" y="138" width="3" height="22" fill="#000"/>
<rect x="31" y="139" width="1" height="20" fill="#fff"/>
<rect x="35" y="112" width="1" height="49" fill="#000"/>
<rect x="34" y="138" width="3" height="8" fill="#000"/>
<rect x="39" y="118" width="1" height="30" fill="#000"/>
<rect x="38" y="120" width="3" height="26" fill="#000"/>
<rect x="39" y="121" width="1" height="24" fill="#fff"/>
<rect x="43" y="117" width="1" height="22" fill="#000"/>
<rect x="42" y="118" width="3" height="21" fill="#000"/>
<rect x="47" y="132" width="1" height="17" fill="#000"/>
<rect x="46" y="137" width="3" height="5" fill="#000"/>
<rect x="51" y="105" width="1" height="43" fill="#000"/>
<rect x="50" y="124" width="3" height="18" fill="#000"/>
<rect x="51" y="125" width="1" height="16" fill="#fff"/>
<rect x="55" y="101" width="1" height="30" fill="#000"/>
<rect x="54" y="112" width="3" height="12" fill="#000"/>
<rect x="55" y="113" width="1" height="10" fill="#fff"/>
<rect x="59" y="104" width="1" height="38" fill="#000"/>
<rect x="58" y="112" width="3" height="29" fill="#000"/>
<rect x="63" y="140" width="1" height="64" fill="#000"/>
<rect x="62" y="140" width="3" height="49" fill="#000"/>
<rect x="67" y="188" width="1" height="23" fill="#000"/>
<rect x="66" y="188" width="3" height="15" fill="#000"/>
<rect x="71" y="181" width="1" height="26" fill="#000"/>
<rect x="70" y="192" width="3" height="10" fill="#000"/>
<rect x="71" y="193" width="1" height="8" fill="#fff"/>
<rect x="75" y="179" width="1" height="30" fill="#000"/>
<rect x="74" y="194" width="3" height="4" fill="#000"/>
<rect x="79" y="143" width="1" height="60" fill="#000"/>
<rect x="78" y="148" width="3" height="50" fill="#000"/>
<rect x="79" y="149" width="1" height="48" fill="#fff"/>
<rect x="83" y="129" width="1" height="40" fill="#000"/>
<rect x="82" y="138" width="3" height="10" fill="#000"/>
<rect x="83" y="139" width="1" height="8" fill="#fff"/>
<rect x="87" y="108" width="1" height="35" fill="#000"/>
<rect x="86" y="112" width="3" height="26" fill="#000"/>
<rect x="87" y="113" width="1" height="24" fill="#fff"/>
<rect x="91" y="105" width="1" height="33" fill="#000"/>
<rect x="90" y="110" width="3" height="25" fill="#000"/>
<rect x="95" y="127" width="1" height="19" fill="#000"/>
<rect x="94" y="135" width="3" height="1" fill="#000"/>
<rect x="99" y="103" width="1" height="42" fill="#000"/>
<rect x="98" y="117" width="3" height="18" fill="#000"/>
<rect x="99" y="118" width="1" height="16" fill="#fff"/>
<rect x="103" y="114" width="1" height="37" fill="#000"/>
<rect x="102" y="117" width="3" height="16" fill="#000"/>
<rect x="107" y="122" width="1" height="33" fill="#000"/>
<rect x="106" y="132" width="3" height="6" fill="#000"/>
<rect x="111" y="45" width="1" height="95" fill="#000"/>
<rect x="110" y="85" width="3" height="53" fill="#000"/>
<rect x="111" y="86" width="1" height="51" fill="#fff"/>
<rect x="115" y="65" width="1" height="33" fill="#000"/>
<rect x="114" y="72" width="3" height="13" fill="#000"/>
<rect x="115" y="73" width="1" height="11" fill="#fff"/>
<rect x="119" y="18" width="1" height="54" fill="#000"/>
<rect x="118" y="34" width="3" height="38" fill="#000"/>
<rect x="119" y="35" width="1" height="36" fill="#fff"/>
<rect x="123" y="30" width="1" height="62" fill="#000"/>
<rect x="122" y="34" width="3" height="46" fill="#000"/>
<rect x="127" y="54" width="1" height="32" fill="#000"/>
<rect x="126" y="56" width="3" height="25" fill="#000"/>
<rect x="127" y="57" width="1" height="23" fill="#fff"/>
<rect x="131" y="46" width="1" height="29" fill="#000"/>
<rect x="130" y="55" width="3" height="8" fill="#000"/>
<rect x="135" y="45" width="1" height="20" fill="#000"/>
<rect x="134" y="57" width="3" height="6" fill="#000"/>
<rect x="135" y="58" width="1" height="4" fill="#fff"/>
<rect x="139" y="58" width="1" height="23" fill="#000"/>
<rect x="138" y="67" width="3" height="13" fill="#000"/>
<rect x="143" y="71" width="1" height="17" fill="#000"/>
<rect x="142" y="77" width="3" height="3" fill="#000"/>
<rect x="143" y="78" width="1" height="1" fill="#fff"/>
<rect x="147" y="73" width="1" height="38" fill="#000"/>
<rect x="146" y="76" width="3" height="28" fill="#000"/>
<rect x="151" y="101" width="1" height="35" fill="#000"/>
<rect x="150" y="103" width="3" height="21" fill="#000"/>
<rect x="155" y="111" width="1" height="27" fill="#000"/>
<rect x="154" y="112" width="3" height="12" fill="#000"/>
<rect x="155" y="113" width="1" height="10" fill="#fff"/>
<rect x="159" y="111" width="1" height="24" fill="#000"/>
<rect x="158" y="112" width="3" height="16" fill="#000"/>
<rect x="163" y="127" width="1" height="31" fill="#000"/>
<rect x="162" y="128" width="3" height="25" fill="#000"/>
<rect x="167" y="146" width="1" height="14" fill="#000"/>
<rect x="166" y="152" width="3" height="1" fill="#000"/>
<rect x="171" y="151" width="1" height="42" fill="#000"/>
<rect x="170" y="152" width="3" height="36" fill="#000"/>
<rect x="175" y="175" width="1" height="23" fill="#000"/>
<rect x="174" y="187" width="3" height="1" fill="#000"/>
<rect x="179" y="156" width="1" height="40" fill="#000"/>
<rect x="178" y="158" width="3" height="29" fill="#000"/>
<rect x="179" y="159" width="1" height="27" fill="#fff"/>
<rect x="183" y="134" width="1" height="34" fill="#000"/>
<rect x="182" y="138" width="3" height="20" fill="#000"/>
<rect x="183" y="139" width="1" height="18" fill="#fff"/>
<rect x="187" y="121" width="1" height="31" fill="#000"/>
<rect x="186" y="137" width="3" height="13" fill="#000"/>
<rect x="191" y="146" width="1" height="18" fill="#000"/>
<rect x="190" y="149" width="3" height="4" fill="#000"/>
<rect x="195" y="138" width="1" height="29" fill="#000"/>
<rect x="194" y="141" width="3" height="12" fill="#000"/>
<rect x="195" y="142" width="1" height="10" fill="#fff"/>
<rect x="199" y="138" width="1" height="35" fill="#000"/>
<rect x="198" y="141" width="3" height="27" fill="#000"/>
<rect x="203" y="156" width="1" height="37" fill="#000"/>
<rect x="202" y="166" width="3" height="13" fill="#000"/>
<rect x="207" y="174" width="1" height="28" fill="#000"/>
<rect x="206" y="178" width="3" height="20" fill="#000"/>
<rect x="211" y="189" width="1" height="18" fill="#000"/>
<rect x="210" y="190" width="3" height="8" fill="#000"/>
<rect x="211" y="191" width="1" height="6" fill="#fff"/>
<rect x="215" y="158" width="1" height="37" fill="#000"/>
<rect x="214" y="163" width="3" height="28" fill="#000"/>
<rect x="215" y="164" width="1" height="26" fill="#fff"/>
<rect x="219" y="138" width="1" height="36" fill="#000"/>
<rect x="218" y="163" width="3" height="6" fill="#000"/>
<rect x="223" y="148" width="1" height="33" fill="#000"/>
<rect x="222" y="169" width="3" height="4" fill="#000"/>
<rect x="227" y="122" width="1" height="67" fill="#000"/>
<rect x="226" y="136" width="3" height="36" fill="#000"/>
<rect x="227" y="137" width="1" height="34" fill="#fff"/>
<rect x="231" y="119" width="1" height="27" fill="#000"/>
<rect x="230" y="132" width="3" height="4" fill="#000"/>
<rect x="231" y="133" width="1" height="2" fill="#fff"/>
<rect x="235" y="124" width="1" height="24" fill="#000"/>
<rect x="234" y="131" width="3" height="16" fill="#000"/>
<rect x="239" y="142" width="1" height="18" fill="#000"/>
<rect x="238" y="146" width="3" height="7" fill="#000"/>
<rect x="243" y="98" width="1" height="57" fill="#000"/>
<rect x="242" y="105" width="3" height="47" fill="#000"/>
<rect x="243" y="106" width="1" height="45" fill="#fff"/>
<rect x="247" y="105" width="1" height="31" fill="#000"/>
<rect x="246" y="105" width="3" height="25" fill="#000"/>
<rect x="251" y="123" width="1" height="37" fill="#000"/>
<rect x="250" y="129" width="3" height="16" fill="#000"/>
<rect x="255" y="142" width="1" height="25" fill="#000"/>
<rect x="254" y="143" width="3" height="23" fill="#000"/>
<rect x="259" y="148" width="1" height="21" fill="#000"/>
<rect x="258" y="155" width="3" height="11" fill="#000"/>
<rect x="259" y="156" width="1" height="9" fill="#fff"/>
<rect x="263" y="141" width="1" height="14" fill="#000"/>
<rect x="262" y="149" width="3" height="6" fill="#000"/>
<rect x="263" y="150" width="1" height="4" fill="#fff"/>
<rect x="267" y="141" width="1" height="19" fill="#000"/>
<rect x="266" y="149" width="3" height="5" fill="#000"/>
<rect x="271" y="146" width="1" height="13" fill="#000"/>
<rect x="270" y="148" width="3" height="6" fill="#000"/>
<rect x="271" y="149" width="1" height="4" fill="#fff"/>
<rect x="275" y="144" width="1" height="22" fill="#000"/>
<rect x="274" y="147" width="3" height="9" fill="#000"/>
<rect x="279" y="148" width="1" height="13" fill="#000"/>
<rect x="278" y="151" width="3" height="5" fill="#000"/>
<rect x="279" y="152" width="1" height="3" fill="#fff"/>
<rect x="283" y="150" width="1" height="24" fill="#000"/>
<rect x="282" y="151" width="3" height="19" fill="#000"/>
<rect x="287" y="163" width="1" height="9" fill="#000"/>
<rect x="286" y="165" width="3" height="5" fill="#000"/>
<rect x="287" y="166" width="1" height="3" fill="#fff"/>
<rect x="291" y="154" width="1" height="67" fill="#000"/>
<rect x="290" y="165" width="3" height="46" fill="#000"/>
<rect x="295" y="195" width="1" height="27" fill="#000"/>
<rect x="294" y="197" width="3" height="14" fill="#000"/>
<rect x="295" y="198" width="1" height="12" fill="#fff"/>
<rect x="299" y="133" width="1" height="65" fill="#000"/>
<rect x="298" y="162" width="3" height="35" fill="#000"/>
<rect x="299" y="163" width="1" height="33" fill="#fff"/>
<rect x="303" y="148" width="1" height="32" fill="#000"/>
<rect x="302" y="162" width="3" height="17" fill="#000"/>
<rect x="307" y="169" width="1" height="21" fill="#000"/>
<rect x="306" y="169" width="3" height="9" fill="#000"/>
<rect x="307" y="170" width="1" height="7" fill="#fff"/>
<rect x="311" y="167" width="1" height="28" fill="#000"/>
<rect x="310" y="169" width="3" height="18" fill="#000"/>
<rect x="315" y="171" width="1" height="25" fill="#000"/>
<rect x="314" y="183" width="3" height="4" fill="#000"/>
<rect x="315" y="184" width="1" height="2" fill="#fff"/>
<rect x="319" y="162" width="1" height="37" fill="#000"/>
<rect x="318" y="182" width="3" height="14" fill="#000"/>
<rect x="323" y="168" width="1" height="31" fill="#000"/>
<rect x="322" y="169" width="3" height="27" fill="#000"/>
<rect x="323" y="170" width="1" height="25" fill="#fff"/>
<rect x="327" y="166" width="1" height="20" fill="#000"/>
<rect x="326" y="169" width="3" height="4" fill="#000"/>
<rect x="331" y="160" width="1" height="21" fill="#000"/>
<rect x="330" y="162" width="3" height="10" fill="#000"/>
<rect x="331" y="163" width="1" height="8" fill="#fff"/>
<rect x="335" y="150" width="1" height="12" fill="#000"/>
<rect x="334" y="157" width="3" height="5" fill="#000"/>
<rect x="335" y="158" width="1" height="3" fill="#fff"/>
<rect x="339" y="143" width="1" height="18" fill="#000"/>
<rect x="338" y="153" width="3" height="5" fill="#000"/>
<rect x="339" y="154" width="1" height="3" fill="#fff"/>
<rect x="343" y="148" width="1" height="30" fill="#000"/>
<rect x="342" y="153" width="3" height="14" fill="#000"/>
<rect x="347" y="165" width="1" height="42" fill="#000"/>
<rect x="346" y="166" width="3" height="33" fill="#000"/>
<rect x="351" y="192" width="1" height="14" fill="#000"/>
<rect x="350" y="198" width="3" height="6" fill="#000"/>
<rect x="355" y="196" width="1" height="10" fill="#000"/>
<rect x="354" y="201" width="3" height="3" fill="#000"/>
<rect x="355" y="202" width="1" height="1" fill="#fff"/>
<rect x="359" y="195" width="1" height="9" fill="#000"/>
<rect x="358" y="198" width="3" height="3" fill="#000"/>
<rect x="359" y="199" width="1" height="1" fill="#fff"/>
<rect x="363" y="184" width="1" height="18" fill="#000"/>
<rect x="362" y="188" width="3" height="10" fill="#000"/>
<rect x="363" y="189" width="1" height="8" fill="#fff"/>
<rect x="367" y="184" width="1" height="72" fill="#000"/>
<rect x="366" y="188" width="3" height="58" fill="#000"/>
<rect x="371" y="234" width="1" height="39" fill="#000"/>
<rect x="370" y="244" width="3" height="10" fill="#000"/>
<rect x="375" y="254" width="1" height="25" fill="#000"/>
<rect x="374" y="254" width="3" height="16" fill="#000"/>
<rect x="379" y="274" width="1" height="31" fill="#000"/>
<rect x="378" y="288" width="3" height="8" fill="#000"/>
<rect x="383" y="289" width="1" height="18" fill="#000"/>
<rect x="382" y="292" width="3" height="4" fill="#000"/>
<rect x="383" y="293" width="1" height="2" fill="#fff"/>
<rect x="387" y="277" width="1" height="19" fill="#000"/>
<rect x="386" y="280" width="3" height="12" fill="#000"/>
<rect x="387" y="281" width="1" height="10" fill="#fff"/>
<rect x="391" y="265" width="1" height="21" fill="#000"/>
<rect x="390" y="278" width="3" height="3" fill="#000"/>
<rect x="391" y="279" width="1" height="1" fill="#fff"/>
<rect x="395" y="271" width="1" height="21" fill="#000"/>
<rect x="394" y="277" width="3" height="1" fill="#000"/>
<rect x="399" y="275" width="1" height="19" fill="#000"/>
<rect x="398" y="278" width="3" height="12" fill="#000"/>
<rect x="403" y="281" width="1" height="13" fill="#000"/>
<rect x="402" y="283" width="3" height="7" fill="#000"/>
<rect x="403" y="284" width="1" height="5" fill="#fff"/>
<rect x="407" y="268" width="1" height="16" fill="#000"/>
<rect x="406" y="276" width="3" height="8" fill="#000"/>
<rect x="407" y="277" width="1" height="6" fill="#fff"/>
<rect x="411" y="268" width="1" height="23" fill="#000"/>
<rect x="410" y="276" width="3" height="13" fill="#000"/>
<rect x="415" y="278" width="1" height="20" fill="#000"/>
<rect x="414" y="288" width="3" height="1" fill="#000"/>
<rect x="419" y="258" width="1" height="36" fill="#000"/>
<rect x="418" y="272" width="3" height="16" fill="#000"/>
<rect x="419" y="273" width="1" height="14" fill="#fff"/>
<rect x="423" y="269" width="1" height="22" fill="#000"/>
<rect x="422" y="272" width="3" height="1" fill="#000"/>
<rect x="427" y="270" width="1" height="17" fill="#000"/>
<rect x="426" y="272" width="3" height="13" fill="#000"/>
<rect x="431" y="278" width="1" height="9" fill="#000"/>
<rect x="430" y="283" width="3" height="2" fill="#000"/>
<rect x="435" y="269" width="1" height="21" fill="#000"/>
<rect x="434" y="280" width="3" height="5" fill="#000"/>
<rect x="435" y="281" width="1" height="3" fill="#fff"/>
<rect x="439" y="250" width="1" height="34" fill="#000"/>
<rect x="438" y="258" width="3" height="22" fill="#000"/>
<rect x="439" y="259" width="1" height="20" fill="#fff"/>
<rect x="443" y="236" width="1" height="24" fill="#000"/>
<rect x="442" y="251" width="3" height="8" fill="#000"/>
<rect x="443" y="252" width="1" height="6" fill="#fff"/>
<rect x="447" y="249" width="1" height="23" fill="#000"/>
<rect x="446" y="250" width="3" height="19" fill="#000"/>
<rect x="451" y="264" width="1" height="13" fill="#000"/>
<rect x="450" y="269" width="3" height="8" fill="#000"/>
<rect x="455" y="242" width="1" height="36" fill="#000"/>
<rect x="454" y="244" width="3" height="33" fill="#000"/>
<rect x="455" y="245" width="1" height="31" fill="#fff"/>
<rect x="459" y="235" width="1" height="25" fill="#000"/>
<rect x="458" y="242" width="3" height="1" fill="#000"/>
<rect x="463" y="230" width="1" height="24" fill="#000"/>
<rect x="462" y="234" width="3" height="8" fill="#000"/>
<rect x="463" y="235" width="1" height="6" fill="#fff"/>
<rect x="467" y="213" width="1" height="27" fill="#000"/>
<rect x="466" y="232" width="3" height="3" fill="#000"/>
<rect x="467" y="233" width="1" height="1" fill="#fff"/>
<rect x="471" y="210" width="1" height="24" fill="#000"/>
<rect x="470" y="218" width="3" height="15" fill="#000"/>
<rect x="471" y="219" width="1" height="13" fill="#fff"/>
<rect x="475" y="208" width="1" height="18" fill="#000"/>
<rect x="474" y="218" width="3" height="2" fill="#000"/>
<rect x="479" y="218" width="1" height="11" fill="#000"/>
<rect x="478" y="219" width="3" height="5" fill="#000"/>
<rect x="483" y="211" width="1" height="19" fill="#000"/>
<rect x="482" y="222" width="3" height="2" fill="#000"/>
<rect x="487" y="206" width="1" height="25" fill="#000"/>
<rect x="486" y="222" width="3" height="9" fill="#000"/>
<rect x="491" y="214" width="1" height="32" fill="#000"/>
<rect x="490" y="231" width="3" height="10" fill="#000"/>
<rect x="495" y="220" width="1" height="22" fill="#000"/>
<rect x="494" y="221" width="3" height="19" fill="#000"/>
<rect x="495" y="222" width="1" height="17" fill="#fff"/>
<rect x="499" y="186" width="1" height="35" fill="#000"/>
<rect x="498" y="198" width="3" height="18" fill="#000"/>
<rect x="499" y="199" width="1" height="16" fill="#fff"/>
<rect x="503" y="193" width="1" height="9" fill="#000"/>
<rect x="502" y="198" width="3" height="3" fill="#000"/>
<rect x="507" y="177" width="1" height="26" fill="#000"/>
<rect x="506" y="181" width="3" height="19" fill="#000"/>
<rect x="507" y="182" width="1" height="17" fill="#fff"/>
<rect x="511" y="163" width="1" height="21" fill="#000"/>
<rect x="510" y="165" width="3" height="16" fill="#000"/>
<rect x="511" y="166" width="1" height="14" fill="#fff"/>
<rect x="515" y="154" width="1" height="25" fill="#000"/>
<rect x="514" y="166" width="3" height="5" fill="#000"/>
<rect x="519" y="166" width="1" height="18" fill="#000"/>
<rect x="518" y="170" width="3" height="13" fill="#000"/>
<rect x="523" y="178" width="1" height="10" fill="#000"/>
<rect x="522" y="180" width="3" height="3" fill="#000"/>
<rect x="523" y="181" width="1" height="1" fill="#fff"/>
<rect x="527" y="179" width="1" height="13" fill="#000"/>
<rect x="526" y="180" width="3" height="7" fill="#000"/>
<rect x="531" y="182" width="1" height="20" fill="#000"/>
<rect x="530" y="186" width="3" height="1" fill="#000"/>
<rect x="535" y="161" width="1" height="38" fill="#000"/>
<rect x="534" y="164" width="3" height="25" fill="#000"/>
<rect x="535" y="165" width="1" height="23" fill="#fff"/>
<rect x="539" y="137" width="1" height="31" fill="#000"/>
<rect x="538" y="142" width="3" height="23" fill="#000"/>
<rect x="539" y="143" width="1" height="21" fill="#fff"/>
<rect x="543" y="135" width="1" height="12" fill="#000"/>
<rect x="542" y="141" width="3" height="2" fill="#000"/>
<rect x="547" y="140" width="1" height="11" fill="#000"/>
<rect x="546" y="141" width="3" height="9" fill="#000"/>
<rect x="551" y="140" width="1" height="11" fill="#000"/>
<rect x="550" y="142" width="3" height="8" fill="#000"/>
<rect x="551" y="143" width="1" height="6" fill="#fff"/>
<rect x="555" y="134" width="1" height="29" fill="#000"/>
<rect x="554" y="142" width="3" height="11" fill="#000"/>
<rect x="559" y="151" width="1" height="19" fill="#000"/>
<rect x="558" y="152" width="3" height="7" fill="#000"/>
<rect x="563" y="139" width="1" height="21" fill="#000"/>
<rect x="562" y="148" width="3" height="11" fill="#000"/>
<rect x="563" y="149" width="1" height="9" fill="#fff"/>
<rect x="567" y="142" width="1" height="13" fill="#000"/>
<rect x="566" y="148" width="3" height="3" fill="#000"/>
<rect x="571" y="148" width="1" height="15" fill="#000"/>
<rect x="570" y="150" width="3" height="12" fill="#000"/>
<rect x="575" y="159" width="1" height="9" fill="#000"/>
<rect x="574" y="161" width="3" height="6" fill="#000"/>
<rect x="579" y="139" width="1" height="36" fill="#000"/>
<rect x="578" y="144" width="3" height="23" fill="#000"/>
<rect x="579" y="145" width="1" height="21" fill="#fff"/>
<rect x="583" y="118" width="1" height="27" fill="#000"/>
<rect x="582" y="125" width="3" height="19" fill="#000"/>
<rect x="583" y="126" width="1" height="17" fill="#fff"/>
<rect x="587" y="112" width="1" height="28" fill="#000"/>
<rect x="586" y="124" width="3" height="12" fill="#000"/>
<rect x="591" y="118" width="1" height="18" fill="#000"/>
<rect x="590" y="121" width="3" height="15" fill="#000"/>
<rect x="591" y="122" width="1" height="13" fill="#fff"/>
<rect x="595" y="118" width="1" height="9" fill="#000"/>
<rect x="594" y="121" width="3" height="4" fill="#000"/>
<rect x="599" y="115" width="1" height="11" fill="#000"/>
<rect x="598" y="115" width="3" height="10" fill="#000"/>
<rect x="599" y="116" width="1" height="8" fill="#fff"/>
</g>
<g class="c" clip-path="url(#p2)">
<rect x="3" y="376" width="1" height="56" fill="#c0c0c0"/>
<rect x="7" y="376" width="1" height="61" fill="#c0c0c0"/>
<rect x="11" y="376" width="1" height="66" fill="#c0c0c0"/>
<rect x="15" y="376" width="1" height="71" fill="#c0c0c0"/>
<rect x="19" y="376" width="1" height="77" fill="#c0c0c0"/>
<rect x="23" y="376" width="1" height="84" fill="#c0c0c0"/>
<rect x="27" y="376" width="1" height="88" fill="#c0c0c0"/>
<rect x="31" y="376" width="1" height="88" fill="#c0c0c0"/>
<rect x="35" y="376" width="1" height="86" fill="#c0c0c0"/>
<rect x="39" y="376" width="1" height="82" fill="#c0c0c0"/>
<rect x="43" y="376" width="1" height="79" fill="#c0c0c0"/>
<rect x="47" y="376" width="1" height="76" fill="#c0c0c0"/>
<rect x="51" y="376" width="1" height="72" fill="#c0c0c0"/>
<rect x="55" y="376" width="1" height="70" fill="#c0c0c0"/>
<rect x="59" y="376" width="1" height="69" fill="#c0c0c0"/>
<rect x="63" y="376" width="1" height="70" fill="#c0c0c0"/>
<rect x="67" y="376" width="1" height="75" fill="#c0c0c0"/>
<rect x="71" y="376" width="1" height="77" fill="#c0c0c0"/>
<rect x="75" y="376" width="1" height="77" fill="#c0c0c0"/>
<rect x="79" y="376" width="1" height="70" fill="#c0c0c0"/>
<rect x="83" y="376" width="1" height="56" fill="#c0c0c0"/>
<rect x="87" y="376" width="1" height="52" fill="#c0c0c0"/>
<rect x="91" y="376" width="1" height="46" fill="#c0c0c0"/>
<rect x="95" y="376" width="1" height="41" fill="#c0c0c0"/>
<rect x="99" y="376" width="1" height="35" fill="#c0c0c0"/>
<rect x="103" y="376" width="1" height="31" fill="#c0c0c0"/>
<rect x="107" y="376" width="1" height="26" fill="#c0c0c0"/>
<rect x="111" y="376" width="1" height="16" fill="#c0c0c0"/>
<rect x="115" y="376" width="1" height="5" fill="#c0c0c0"/>
<rect x="119" y="366" width="1" height="10" fill="#c0c0c0"/>
<rect x="123" y="361" width="1" height="15" fill="#c0c0c0"/>
<rect x="127" y="355" width="1" height="21" fill="#c0c0c0"/>
<rect x="131" y="350" width="1" height="26" fill="#c0c0c0"/>
<rect x="135" y="348" width="1" height="28" fill="#c0c0c0"/>
<rect x="139" y="348" width="1" height="28" fill="#c0c0c0"/>
<rect x="143" y="348" width="1" height="28" fill="#c0c0c0"/>
<rect x="147" y="355" width="1" height="21" fill="#c0c0c0"/>
<rect x="151" y="361" width="1" height="15" fill="#c0c0c0"/>
<rect x="155" y="366" width="1" height="10" fill="#c0c0c0"/>
<rect x="159" y="373" width="1" height="3" fill="#c0c0c0"/>
<rect x="163" y="376" width="1" height="4" fill="#c0c0c0"/>
<rect x="167" y="376" width="1" height="13" fill="#c0c0c0"/>
<rect x="171" y="376" width="1" height="24" fill="#c0c0c0"/>
<rect x="175" y="376" width="1" height="33" fill="#c0c0c0"/>
<rect x="179" y="376" width="1" height="35" fill="#c0c0c0"/>
<rect x="183" y="376" width="1" height="33" fill="#c0c0c0"/>
<rect x="187" y="376" width="1" height="31" fill="#c0c0c0"/>
<rect x="191" y="376" width="1" height="31" fill="#c0c0c0"/>
<rect x="195" y="376" width="1" height="30" fill="#c0c0c0"/>
<rect x="199" y="376" width="1" height="31" fill="#c0c0c0"/>
<rect x="203" y="376" width="1" height="35" fill="#c0c0c0"/>
<rect x="207" y="376" width="1" height="40" fill="#c0c0c0"/>
<rect x="211" y="376" width="1" height="43" fill="#c0c0c0"/>
<rect x="215" y="376" width="1" height="39" fill="#c0c0c0"/>
<rect x="219" y="376" width="1" height="36" fill="#c0c0c0"/>
<rect x="223" y="376" width="1" height="35" fill="#c0c0c0"/>
<rect x="227" y="376" width="1" height="30" fill="#c0c0c0"/>
<rect x="231" y="376" width="1" height="21" fill="#c0c0c0"/>
<rect x="235" y="376" width="1" height="17" fill="#c0c0c0"/>
<rect x="239" y="376" width="1" height="15" fill="#c0c0c0"/>
<rect x="243" y="376" width="1" height="7" fill="#c0c0c0"/>
<rect x="247" y="376" width="1" height="4" fill="#c0c0c0"/>
<rect x="251" y="376" width="1" height="3" fill="#c0c0c0"/>
<rect x="255" y="376" width="1" height="7" fill="#c0c0c0"/>
<rect x="259" y="376" width="1" height="7" fill="#c0c0c0"/>
<rect x="263" y="376" width="1" height="7" fill="#c0c0c0"/>
<rect x="267" y="376" width="1" height="8" fill="#c0c0c0"/>
<rect x="271" y="376" width="1" height="8" fill="#c0c0c0"/>
<rect x="275" y="376" width="1" height="9" fill="#c0c0c0"/>
<rect x="279" y="376" width="1" height="10" fill="#c0c0c0"/>
<rect x="283" y="376" width="1" height="13" fill="#c0c0c0"/>
<rect x="287" y="376" width="1" height="15" fill="#c0c0c0"/>
<rect x="291" y="376" width="1" height="20" fill="#c0c0c0"/>
<rect x="295" y="376" width="1" height="24" fill="#c0c0c0"/>
<rect x="299" y="376" width="1" height="23" fill="#c0c0c0"/>
<rect x="303" y="376" width="1" height="21" fill="#c0c0c0"/>
<rect x="307" y="376" width="1" height="20" fill="#c0c0c0"/>
<rect x="311" y="376" width="1" height="20" fill="#c0c0c0"/>
<rect x="315" y="376" width="1" height="21" fill="#c0c0c0"/>
<rect x="319" y="376" width="1" height="21" fill="#c0c0c0"/>
<rect x="323" y="376" width="1" height="20" fill="#c0c0c0"/>
<rect x="327" y="376" width="1" height="16" fill="#c0c0c0"/>
<rect x="331" y="376" width="1" height="14" fill="#c0c0c0"/>
<rect x="335" y="376" width="1" height="11" fill="#c0c0c0"/>
<rect x="339" y="376" width="1" height="8" fill="#c0c0c0"/>
<rect x="343" y="376" width="1" height="8" fill="#c0c0c0"/>
<rect x="347" y="376" width="1" height="11" fill="#c0c0c0"/>
<rect x="351" y="376" width="1" height="14" fill="#c0c0c0"/>
<rect x="355" y="376" width="1" height="19" fill="#c0c0c0"/>
<rect x="359" y="376" width="1" height="20" fill="#c0c0c0"/>
<rect x="363" y="376" width="1" height="20" fill="#c0c0c0"/>
<rect x="367" y="376" width="1" height="29" fill="#c0c0c0"/>
<rect x="371" y="376" width="1" height="37" fill="#c0c0c0"/>
<rect x="375" y="376" width="1" height="46" fill="#c0c0c0"/>
<rect x="379" y="376" width="1" height="56" fill="#c0c0c0"/>
<rect x="383" y="376" width="1" height="64" fill="#c0c0c0"/>
<rect x="387" y="376" width="1" height="67" fill="#c0c0c0"/>
<rect x="391" y="376" width="1" height="68" fill="#c0c0c0"/>
<rect x="395" y="376" width="1" height="69" fill="#c0c0c0"/>
<rect x="399" y="376" width="1" height="69" fill="#c0c0c0"/>
<rect x="403" y="376" width="1" height="68" fill="#c0c0c0"/>
<rect x="407" y="376" width="1" height="65" fill="#c0c0c0"/>
<rect x="411" y="376" width="1" height="64" fill="#c0c0c0"/>
<rect x="415" y="376" width="1" height="62" fill="#c0c0c0"/>
<rect x="419" y="376" width="1" height="59" fill="#c0c0c0"/>
<rect x="423" y="376" width="1" height="55" fill="#c0c0c0"/>
<rect x="427" y="376" width="1" height="53" fill="#c0c0c0"/>
<rect x="431" y="376" width="1" height="51" fill="#c0c0c0"/>
<rect x="435" y="376" width="1" height="49" fill="#c0c0c0"/>
<rect x="439" y="376" width="1" height="43" fill="#c0c0c0"/>
<rect x="443" y="376" width="1" height="35" fill="#c0c0c0"/>
<rect x="447" y="376" width="1" height="33" fill="#c0c0c0"/>
<rect x="451" y="376" width="1" height="30" fill="#c0c0c0"/>
<rect x="455" y="376" width="1" height="24" fill="#c0c0c0"/>
<rect x="459" y="376" width="1" height="17" fill="#c0c0c0"/>
<rect x="463" y="376" width="1" height="13" fill="#c0c0c0"/>
<rect x="467" y="376" width="1" height="7" fill="#c0c0c0"/>
<rect x="471" y="376" width="1" height="3" fill="#c0c0c0"/>
<rect x="475" y="372" width="1" height="4" fill="#c0c0c0"/>
<rect x="479" y="368" width="1" height="8" fill="#c0c0c0"/>
<rect x="483" y="363" width="1" height="13" fill="#c0c0c0"/>
<rect x="487" y="365" width="1" height="11" fill="#c0c0c0"/>
<rect x="491" y="366" width="1" height="10" fill="#c0c0c0"/>
<rect x="495" y="365" width="1" height="11" fill="#c0c0c0"/>
<rect x="499" y="359" width="1" height="17" fill="#c0c0c0"/>
<rect x="503" y="355" width="1" height="21" fill="#c0c0c0"/>
<rect x="507" y="349" width="1" height="27" fill="#c0c0c0"/>
<rect x="511" y="342" width="1" height="34" fill="#c0c0c0"/>
<rect x="515" y="338" width="1" height="38" fill="#c0c0c0"/>
<rect x="519" y="337" width="1" height="39" fill="#c0c0c0"/>
<rect x="523" y="337" width="1" height="39" fill="#c0c0c0"/>
<rect x="527" y="338" width="1" height="38" fill="#c0c0c0"/>
<rect x="531" y="339" width="1" height="37" fill="#c0c0c0"/>
<rect x="535" y="336" width="1" height="40" fill="#c0c0c0"/>
<rect x="539" y="331" width="1" height="45" fill="#c0c0c0"/>
<rect x="543" y="328" width="1" height="48" fill="#c0c0c0"/>
<rect x="547" y="326" width="1" height="50" fill="#c0c0c0"/>
<rect x="551" y="324" width="1" height="52" fill="#c0c0c0"/>
<rect x="555" y="326" width="1" height="50" fill="#c0c0c0"/>
<rect x="559" y="329" width="1" height="47" fill="#c0c0c0"/>
<rect x="563" y="329" width="1" height="47" fill="#c0c0c0"/>
<rect x="567" y="330" width="1" height="46" fill="#c0c0c0"/>
<rect x="571" y="335" width="1" height="41" fill="#c0c0c0"/>
<rect x="575" y="339" width="1" height="37" fill="#c0c0c0"/>
<rect x="579" y="338" width="1" height="38" fill="#c0c0c0"/>
<rect x="583" y="335" width="1" height="41" fill="#c0c0c0"/>
<rect x="587" y="334" width="1" height="42" fill="#c0c0c0"/>
<rect x="591" y="334" width="1" height="42" fill="#c0c0c0"/>
<rect x="595" y="334" width="1" height="42" fill="#c0c0c0"/>
<rect x="599" y="332" width="1" height="44" fill="#c0c0c0"/>
<polyline points="3.0,430.7 10.0,431.7 17.5,436.0 25.0,442.4 32.4,450.0 39.9,454.0 47.4,456.6 52.4,456.6 59.8,453.0 67.3,450.6 74.8,449.0 82.3,448.0 89.8,445.0 94.7,441.6 99.7,437.4 107.2,427.4 114.7,413.7 122.2,397.5 129.6,382.6 137.1,370.0 144.6,360.0 149.6,355.0 154.6,354.0 159.6,355.0 164.5,359.0 167.5,362.6 175.0,375.0 182.4,388.8 189.9,398.8 197.4,403.7 204.9,408.2 212.4,410.0 219.8,410.7 227.3,411.2 234.8,409.2 242.3,405.0 247.3,398.8 254.7,391.3 262.2,385.8 269.7,382.6 277.2,380.8 284.7,382.6 292.1,385.0 299.6,388.8 307.1,391.8 314.6,394.3 322.1,396.8 330.0,396.8 340.0,393.3 349.9,390.8 359.9,388.8 364.9,389.3 372.4,395.0 379.8,405.0 387.3,416.2 394.8,426.2 402.3,434.9 409.8,440.6 416.0,441.9 422.2,441.2 429.7,438.7 437.2,433.7 444.7,427.4 452.1,420.7 459.6,412.5 467.1,402.5 474.6,392.5 482.1,383.8 489.5,376.3 496.0,371.3 500.0,366.9 507.4,361.4 514.9,355.0 522.4,349.4 529.9,344.0 537.3,339.0 544.8,335.2 552.3,332.0 559.8,330.2 567.3,329.0 574.7,329.0 579.7,331.5 587.2,333.5 592.2,334.0 599.7,334.0" fill="none" stroke="#ff0000" stroke-width="2.2" stroke-linejoin="round"/>
</g>
<g class="c" clip-path="url(#p3)">
<polyline points="3.0,614.6 7.5,608.4 12.5,601.6 16.2,602.1 21.2,607.1 26.2,612.6 31.2,607.1 36.2,598.4 41.1,584.7 46.1,577.2 51.1,573.5 56.1,568.5 61.1,563.5 64.3,566.0 67.3,577.2 71.1,594.7 74.8,605.9 78.5,599.6 83.5,584.7 88.5,554.8 92.2,524.8 96.0,514.9 99.7,512.9 104.7,512.9 109.7,514.4 114.7,512.4 119.7,507.4 124.7,502.4 129.6,506.2 134.6,512.4 139.6,518.6 145.8,532.3 152.1,554.8 158.3,577.2 160.0,583.4 163.7,592.2 167.5,605.9 172.5,617.1 176.2,619.6 181.2,612.1 186.2,594.7 191.2,579.7 196.2,571.0 201.1,569.7 204.9,574.7 208.6,584.7 212.4,593.4 216.1,592.2 221.1,579.7 226.1,562.2 231.1,542.3 236.0,522.4 241.0,514.4 246.0,511.9 251.0,513.6 256.0,524.8 259.7,539.8 263.5,552.3 268.5,557.3 273.4,559.8 278.4,566.0 283.4,578.5 288.4,594.7 293.4,608.4 297.1,604.6 300.9,589.7 305.8,569.7 310.8,552.3 314.6,549.3 319.6,557.3 320.0,558.5 325.0,561.0 330.0,549.8 335.0,536.1 339.9,526.1 344.9,522.4 348.7,534.8 352.4,554.8 356.2,584.7 359.9,604.6 363.6,608.4 368.6,604.6 373.6,605.9 378.6,610.9 383.6,614.1 387.3,614.6 392.3,609.6 397.3,603.4 402.3,600.1 407.3,599.1 412.2,597.6 417.2,597.2 421.0,592.2 424.7,579.7 429.7,562.2 434.7,549.8 439.7,544.8 444.7,536.1 448.4,529.8 452.1,532.3 455.9,538.6 459.6,534.8 463.4,517.4 468.3,498.7 473.3,494.9 478.3,496.2 480.0,496.2 485.0,499.9 490.0,508.6 495.0,518.6 498.7,519.9 502.4,512.4 506.2,501.2 509.9,492.4 514.9,489.4 518.6,492.4 522.4,501.2 527.4,513.6 532.4,521.1 536.1,518.6 539.8,511.1 543.6,499.9 547.3,491.2 551.1,488.0 554.8,491.2 558.5,499.9 563.5,509.9 567.3,515.4 571.0,517.4 574.7,522.4 578.5,527.3 581.7,523.6 584.7,516.1 588.5,507.4 592.2,503.7 595.9,503.7 599.2,501.9" fill="none" stroke="#ff0000" stroke-width="1.0" stroke-dasharray="3 3" shape-rendering="geometricPrecision"/>
<polyline points="3.0,617.1 6.2,603.4 11.2,600.1 15.0,602.1 19.9,609.6 24.9,615.1 28.7,609.6 33.7,598.4 36.2,594.7 39.9,578.5 43.6,576.0 48.6,572.7 51.9,572.7 55.3,562.2 59.3,557.3 62.3,566.0 65.3,583.4 68.6,602.1 71.1,607.1 74.8,609.1 78.5,589.7 82.3,567.2 86.0,528.6 88.5,516.1 92.2,511.9 96.0,511.9 98.5,513.6 102.2,512.9 107.2,512.9 111.7,516.9 115.9,508.6 119.7,499.9 123.4,502.9 127.2,507.4 132.1,516.1 135.9,513.6 138.4,519.9 144.6,534.8 149.6,554.8 154.6,572.2 160.0,595.9 163.7,602.1 167.5,614.6 171.2,623.3 176.2,615.8 179.9,602.1 184.9,582.2 189.9,572.2 194.9,568.5 199.9,569.7 203.6,576.0 207.4,592.2 211.1,604.6 214.8,589.7 219.8,568.5 224.8,552.3 229.8,526.1 234.8,506.2 238.5,516.1 242.3,511.9 246.0,509.9 249.8,512.4 252.2,518.6 256.0,542.3 259.7,554.8 263.5,558.5 268.5,558.5 273.4,563.5 278.4,572.2 283.4,589.7 287.2,604.6 291.6,615.1 295.9,602.1 299.6,582.2 303.4,559.8 307.6,541.1 312.1,552.3 315.8,556.0 320.0,567.2 323.7,557.3 327.5,551.0 331.2,534.8 336.2,523.6 339.9,515.4 343.7,519.9 346.2,534.8 349.9,569.7 353.7,597.2 356.2,614.1 359.9,612.1 362.9,599.6 367.4,603.4 371.1,603.4 375.3,612.1 379.8,614.6 383.6,616.6 387.3,610.9 392.3,603.4 396.0,599.6 401.0,600.1 406.0,597.6 411.0,596.7 416.0,598.4 419.7,593.4 423.5,569.7 427.2,547.3 430.9,544.8 435.2,556.0 439.2,537.3 443.4,520.4 447.2,524.8 451.6,549.3 455.9,538.6 459.6,516.1 463.4,488.7 467.1,494.9 470.8,494.4 475.8,497.9 480.0,496.2 483.7,499.9 487.5,511.1 491.2,521.9 495.5,525.3 498.7,517.4 502.4,501.2 506.2,493.7 511.2,485.5 514.9,488.0 518.6,499.9 522.4,512.4 526.1,521.1 530.4,524.4 533.6,519.9 537.3,507.4 541.1,491.2 544.3,485.5 547.8,487.5 551.1,491.2 554.8,501.2 558.5,509.9 563.5,517.9 567.3,516.1 571.0,518.6 573.5,526.1 576.0,532.3 579.2,524.8 582.2,511.1 584.7,505.4 587.7,502.4 590.9,502.4 593.4,506.2 595.4,509.9 597.7,499.9 599.7,494.9" fill="none" stroke="#20b2aa" stroke-width="1.0" shape-rendering="geometricPrecision"/>
</g>
<g class="c">
<rect x="2" y="2" width="667" height="1" fill="#000"/>
<rect x="2" y="314" width="667" height="1" fill="#000"/>
<rect x="2" y="316" width="667" height="1" fill="#000"/>
<rect x="2" y="471" width="667" height="1" fill="#000"/>
<rect x="2" y="473" width="667" height="1" fill="#000"/>
<rect x="2" y="627" width="667" height="1" fill="#000"/>
<rect x="2" y="2" width="1" height="626" fill="#000"/>
<rect x="668" y="2" width="1" height="626" fill="#000"/>
<rect x="3" y="12" width="3" height="1" fill="#000"/>
<rect x="669" y="24" width="2" height="1" fill="#000"/>
<rect x="669" y="56" width="2" height="1" fill="#000"/>
<rect x="669" y="88" width="2" height="1" fill="#000"/>
<rect x="669" y="120" width="2" height="1" fill="#000"/>
<rect x="669" y="152" width="2" height="1" fill="#000"/>
<rect x="669" y="184" width="2" height="1" fill="#000"/>
<rect x="669" y="216" width="2" height="1" fill="#000"/>
<rect x="669" y="248" width="2" height="1" fill="#000"/>
<rect x="669" y="280" width="2" height="1" fill="#000"/>
<rect x="669" y="312" width="2" height="1" fill="#000"/>
<rect x="669" y="318" width="1" height="1" fill="#000"/>
<rect x="669" y="376" width="1" height="1" fill="#000"/>
<rect x="669" y="470" width="1" height="1" fill="#000"/>
<rect x="669" y="475" width="1" height="1" fill="#000"/>
<rect x="669" y="627" width="1" height="1" fill="#000"/>
<rect x="3" y="627" width="1" height="4" fill="#000"/>
<rect x="67" y="627" width="1" height="4" fill="#000"/>
<rect x="131" y="627" width="1" height="4" fill="#000"/>
<rect x="195" y="627" width="1" height="4" fill="#000"/>
<rect x="259" y="627" width="1" height="4" fill="#000"/>
<rect x="323" y="627" width="1" height="4" fill="#000"/>
<rect x="387" y="627" width="1" height="4" fill="#000"/>
<rect x="451" y="627" width="1" height="4" fill="#000"/>
<rect x="515" y="627" width="1" height="4" fill="#000"/>
<rect x="579" y="627" width="1" height="4" fill="#000"/>
</g>
<text transform="translate(674.2 27) scale(0.9256 1)" fill="#000" stroke="#000" stroke-width="0.25" font-size="9.8" xml:space="preserve">1.26560</text>
<text transform="translate(674.2 59) scale(0.9256 1)" fill="#000" stroke="#000" stroke-width="0.25" font-size="9.8" xml:space="preserve">1.25660</text>
<text transform="translate(674.2 91) scale(0.9256 1)" fill="#000" stroke="#000" stroke-width="0.25" font-size="9.8" xml:space="preserve">1.24785</text>
<text transform="translate(674.2 123) scale(0.9256 1)" fill="#000" stroke="#000" stroke-width="0.25" font-size="9.8" xml:space="preserve">1.23910</text>
<text transform="translate(674.2 155) scale(0.9256 1)" fill="#000" stroke="#000" stroke-width="0.25" font-size="9.8" xml:space="preserve">1.23010</text>
<text transform="translate(674.2 187) scale(0.9256 1)" fill="#000" stroke="#000" stroke-width="0.25" font-size="9.8" xml:space="preserve">1.22135</text>
<text transform="translate(674.2 219) scale(0.9256 1)" fill="#000" stroke="#000" stroke-width="0.25" font-size="9.8" xml:space="preserve">1.21260</text>
<text transform="translate(674.2 251) scale(0.9256 1)" fill="#000" stroke="#000" stroke-width="0.25" font-size="9.8" xml:space="preserve">1.20360</text>
<text transform="translate(674.2 283) scale(0.9256 1)" fill="#000" stroke="#000" stroke-width="0.25" font-size="9.8" xml:space="preserve">1.19485</text>
<text transform="translate(674.2 315) scale(0.9256 1)" fill="#000" stroke="#000" stroke-width="0.25" font-size="9.8" xml:space="preserve">1.18610</text>
<g class="c">
<rect x="670" y="28" width="36" height="11" fill="#008080"/>
<rect x="670" y="67" width="36" height="11" fill="#008080"/>
<rect x="670" y="97" width="36" height="11" fill="#008080"/>
<rect x="670" y="129" width="36" height="11" fill="#008080"/>
<rect x="670" y="158" width="36" height="11" fill="#008080"/>
<rect x="670" y="205" width="36" height="11" fill="#008080"/>
<rect x="670" y="228" width="36" height="11" fill="#008080"/>
<rect x="670" y="260" width="36" height="11" fill="#008080"/>
<rect x="670" y="303" width="36" height="11" fill="#008080"/>
<rect x="670" y="109" width="36" height="11" fill="#000"/>
</g>
<text transform="translate(674.2 37) scale(0.9256 1)" fill="#fff" stroke="#fff" stroke-width="0.25" font-size="9.8" xml:space="preserve">1.26267</text>
<text transform="translate(674.2 76) scale(0.9256 1)" fill="#fff" stroke="#fff" stroke-width="0.25" font-size="9.8" xml:space="preserve">1.25193</text>
<text transform="translate(674.2 106) scale(0.9256 1)" fill="#fff" stroke="#fff" stroke-width="0.25" font-size="9.8" xml:space="preserve">1.24368</text>
<text transform="translate(674.2 138) scale(0.9256 1)" fill="#fff" stroke="#fff" stroke-width="0.25" font-size="9.8" xml:space="preserve">1.23490</text>
<text transform="translate(674.2 167) scale(0.9256 1)" fill="#fff" stroke="#fff" stroke-width="0.25" font-size="9.8" xml:space="preserve">1.22684</text>
<text transform="translate(674.2 214) scale(0.9256 1)" fill="#fff" stroke="#fff" stroke-width="0.25" font-size="9.8" xml:space="preserve">1.21393</text>
<text transform="translate(674.2 237) scale(0.9256 1)" fill="#fff" stroke="#fff" stroke-width="0.25" font-size="9.8" xml:space="preserve">1.20763</text>
<text transform="translate(674.2 269) scale(0.9256 1)" fill="#fff" stroke="#fff" stroke-width="0.25" font-size="9.8" xml:space="preserve">1.19880</text>
<text transform="translate(674.2 312) scale(0.9256 1)" fill="#fff" stroke="#fff" stroke-width="0.25" font-size="9.8" xml:space="preserve">1.18694</text>
<text transform="translate(674.2 118) scale(0.9256 1)" fill="#fff" stroke="#fff" stroke-width="0.25" font-size="9.8" xml:space="preserve">1.24040</text>
<text transform="translate(672.2 327) scale(0.9256 1)" fill="#000" stroke="#000" stroke-width="0.25" font-size="9.8" xml:space="preserve">0.007474</text>
<text transform="translate(672.2 379) scale(0.9256 1)" fill="#000" stroke="#000" stroke-width="0.25" font-size="9.8" xml:space="preserve">0.00</text>
<text transform="translate(672.2 468) scale(0.9256 1)" fill="#000" stroke="#000" stroke-width="0.25" font-size="9.8" xml:space="preserve">-0.01212</text>
<text transform="translate(672.2 484) scale(0.9256 1)" fill="#000" stroke="#000" stroke-width="0.25" font-size="9.8" xml:space="preserve">100</text>
<text transform="translate(671.2 508) scale(0.9256 1)" fill="#000" stroke="#000" stroke-width="0.25" font-size="9.8" xml:space="preserve">80</text>
<text transform="translate(671.4 599) scale(0.9256 1)" fill="#000" stroke="#000" stroke-width="0.25" font-size="9.8" xml:space="preserve">20</text>
<text transform="translate(671.4 624) scale(0.9256 1)" fill="#000" stroke="#000" stroke-width="0.25" font-size="9.8" xml:space="preserve">0</text>
<rect x="7" y="5" width="201" height="11" fill="#fff"/>
<text transform="translate(7.8 14) scale(0.9256 1)" fill="#000" stroke="#000" stroke-width="0.25" font-size="9.8" textLength="57.26" lengthAdjust="spacingAndGlyphs" xml:space="preserve">EURUSD,H4</text>
<text transform="translate(67.6 14) scale(0.9256 1)" fill="#000" stroke="#000" stroke-width="0.25" font-size="9.8" xml:space="preserve">1.23803</text>
<text transform="translate(103.6 14) scale(0.9256 1)" fill="#000" stroke="#000" stroke-width="0.25" font-size="9.8" xml:space="preserve">1.24045</text>
<text transform="translate(139.6 14) scale(0.9256 1)" fill="#000" stroke="#000" stroke-width="0.25" font-size="9.8" xml:space="preserve">1.23768</text>
<text transform="translate(175.6 14) scale(0.9256 1)" fill="#000" stroke="#000" stroke-width="0.25" font-size="9.8" xml:space="preserve">1.24040</text>
<text transform="translate(7.6 330) scale(0.9256 1)" fill="#000" stroke="#000" stroke-width="0.25" font-size="9.8" textLength="159.36" lengthAdjust="spacingAndGlyphs" xml:space="preserve">MACD(12,26,9) 0.005748 0.005335</text>
<text transform="translate(7.6 487) scale(0.9256 1)" fill="#000" stroke="#000" stroke-width="0.25" font-size="9.8" textLength="136.67" lengthAdjust="spacingAndGlyphs" xml:space="preserve">Stoch(13,3,3) 87.3435 81.9850</text>
<text transform="translate(6.8 622) scale(0.9256 1)" fill="#000" stroke="#000" stroke-width="0.25" font-size="9.8" textLength="256.05" lengthAdjust="spacingAndGlyphs" xml:space="preserve">FxPro MT4, © 2001-2010 MetaQuotes Software Corp.</text>
<text transform="translate(2.7 640) scale(0.96 1)" fill="#000" stroke="#000" stroke-width="0.25" font-size="9.8" textLength="56.46" lengthAdjust="spacingAndGlyphs" xml:space="preserve">14 May 2010</text>
<text transform="translate(66.7 640) scale(0.96 1)" fill="#000" stroke="#000" stroke-width="0.25" font-size="9.8" textLength="59.48" lengthAdjust="spacingAndGlyphs" xml:space="preserve">19 May 00:00</text>
<text transform="translate(130.7 640) scale(0.96 1)" fill="#000" stroke="#000" stroke-width="0.25" font-size="9.8" textLength="59.48" lengthAdjust="spacingAndGlyphs" xml:space="preserve">21 May 16:00</text>
<text transform="translate(194.7 640) scale(0.96 1)" fill="#000" stroke="#000" stroke-width="0.25" font-size="9.8" textLength="59.48" lengthAdjust="spacingAndGlyphs" xml:space="preserve">26 May 08:00</text>
<text transform="translate(258.7 640) scale(0.96 1)" fill="#000" stroke="#000" stroke-width="0.25" font-size="9.8" textLength="59.48" lengthAdjust="spacingAndGlyphs" xml:space="preserve">31 May 00:00</text>
<text transform="translate(322.7 640) scale(0.96 1)" fill="#000" stroke="#000" stroke-width="0.25" font-size="9.8" textLength="49.90" lengthAdjust="spacingAndGlyphs" xml:space="preserve">2 Jun 16:00</text>
<text transform="translate(386.7 640) scale(0.96 1)" fill="#000" stroke="#000" stroke-width="0.25" font-size="9.8" textLength="49.90" lengthAdjust="spacingAndGlyphs" xml:space="preserve">7 Jun 08:00</text>
<text transform="translate(450.7 640) scale(0.96 1)" fill="#000" stroke="#000" stroke-width="0.25" font-size="9.8" textLength="55.10" lengthAdjust="spacingAndGlyphs" xml:space="preserve">10 Jun 00:00</text>
<text transform="translate(514.7 640) scale(0.96 1)" fill="#000" stroke="#000" stroke-width="0.25" font-size="9.8" textLength="55.10" lengthAdjust="spacingAndGlyphs" xml:space="preserve">14 Jun 16:00</text>
<text transform="translate(578.7 640) scale(0.96 1)" fill="#000" stroke="#000" stroke-width="0.25" font-size="9.8" textLength="55.10" lengthAdjust="spacingAndGlyphs" xml:space="preserve">17 Jun 08:00</text>
</svg></body></html>
